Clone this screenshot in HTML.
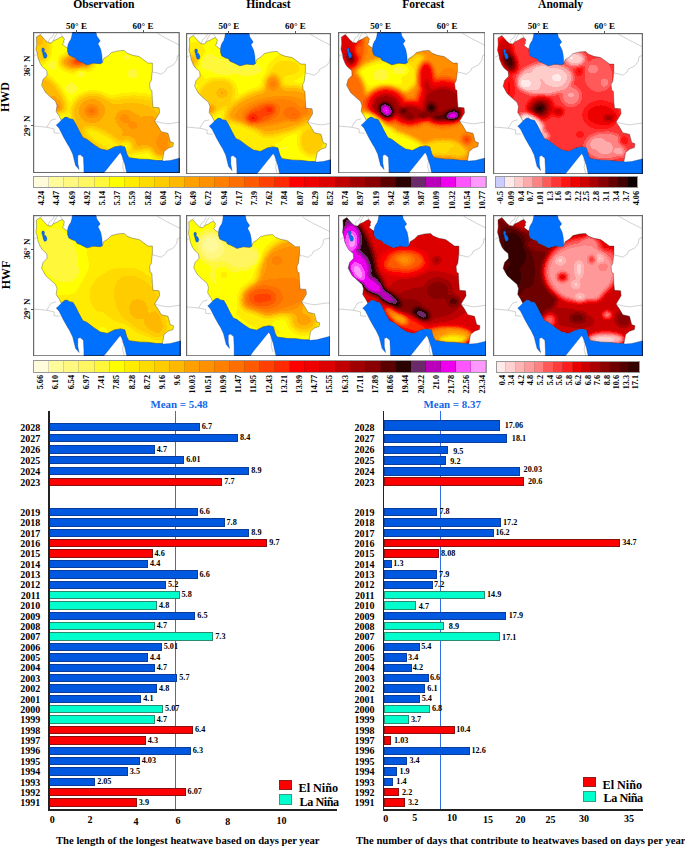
<!DOCTYPE html>
<html><head><meta charset="utf-8"><style>
html,body{margin:0;padding:0;background:#fff}
body{width:685px;height:850px;position:relative;overflow:hidden;font-family:"Liberation Serif", serif;font-weight:bold}
.t{position:absolute;white-space:nowrap;font-weight:bold}
.map{position:absolute;overflow:hidden}
</style></head><body>
<svg width="0" height="0" style="position:absolute">
<defs>
<path id="iranp" d="M2.8,4.4 L6.7,2.0 L8.9,4.4 L11.5,7.5 L14.4,10.0 L17.8,10.5 L19.4,8.3 L23.3,6.7 L25.8,5.1 L28.5,4.0 L30.2,5.4 L30.8,6.9 L29.9,8.4 L30.5,9.8 L28.8,11.3 L30.2,13.0 L32.3,14.5 L34.0,15.4 L34.1,18.8 L35.3,22.3 L38.8,24.1 L42.0,25.1 L43.4,27.6 L46.6,28.8 L53.3,32.2 L59.9,30.5 L66.6,31.1 L68.8,30.0 L70.0,26.1 L74.4,23.3 L77.8,20.0 L84.4,18.3 L90.5,17.8 L93.3,20.5 L98.8,22.7 L105.5,23.9 L110.0,27.2 L114.4,30.5 L118.8,30.5 L118.8,37.7 L117.7,47.7 L116.0,51.0 L116.6,56.6 L118.3,57.7 L118.8,68.0 L119.4,74.7 L125.5,75.2 L126.0,80.2 L121.0,88.5 L124.4,93.5 L127.7,99.1 L134.4,100.7 L136.6,109.0 L139.9,110.2 L139.3,114.0 L134.4,115.7 L130.5,119.0 L128.8,128.0 L123.3,128.0 L114.4,126.8 L106.0,126.6 L95.3,125.1 L93.2,121.5 L91.2,114.3 L87.1,113.3 L81.0,114.3 L73.8,117.9 L66.7,116.4 L60.5,112.3 L56.4,109.2 L53.3,106.8 L49.3,105.2 L47.7,102.4 L45.3,98.0 L43.8,94.9 L41.6,90.6 L39.4,86.9 L35.8,86.2 L33.6,84.7 L31.4,84.7 L27.7,87.6 L25.5,83.3 L22.6,78.9 L23.4,73.0 L21.9,68.7 L17.5,65.0 L12.0,59.9 L8.0,52.6 L9.5,46.8 L13.5,42.7 L13.1,38.0 L8.9,34.4 L6.7,31.1 L4.4,25.5 L3.9,21.6 L2.4,16.6 L3.1,11.1 Z"/>
<path id="seap" d="M24.1,91.3 L27.7,87.6 L31.4,84.7 L33.6,84.7 L35.8,86.2 L39.4,86.9 L41.6,90.6 L43.8,94.9 L45.3,98.0 L47.7,102.4 L49.3,105.2 L53.3,106.8 L56.4,109.2 L60.5,112.3 L66.7,116.4 L73.8,117.9 L81.0,114.3 L87.1,113.3 L91.2,114.3 L93.2,121.5 L95.3,125.1 L106.0,126.6 L114.4,126.8 L123.3,128.0 L128.8,128.0 L129.9,128.5 L136.6,127.9 L160.0,122.0 L160.0,150.0 L95.5,150.0 L93.2,141.0 L91.2,131.7 L88.1,122.5 L86.6,120.0 L69.7,141.0 L64.0,150.0 L50.3,150.0 L50.3,141.0 L50.3,134.8 L49.8,124.6 L46.5,122.0 L44.2,123.0 L44.2,130.7 L45.5,137.0 L42.0,133.0 L39.1,121.5 L36.0,114.9 L34.4,112.4 L30.0,104.6 L25.5,95.7 L22.6,92.4 Z"/>
<path id="caspp" d="M38.8,-10.0 L38.7,0.5 L38.1,4.0 L37.2,6.9 L35.8,8.9 L34.6,11.3 L34.0,14.2 L34.1,18.8 L35.3,22.3 L38.8,24.1 L42.0,25.1 L43.4,27.6 L46.6,28.8 L53.3,32.2 L59.9,30.5 L66.6,31.1 L68.8,30.0 L68.2,22.2 L67.1,16.6 L64.4,11.1 L66.6,8.3 L65.5,6.7 L63.2,3.3 L60.5,-10.0 Z"/>
<path id="urmp" d="M8.4,15.6 L10.2,15.4 L11.0,17.2 L10.4,18.8 L12.4,20.5 L13.4,23.2 L12.6,25.4 L10.6,25.6 L9.6,23.0 L9.0,20.2 L8.2,18.0 Z"/>
<g id="bord" fill="none" stroke="#8a8a8a" stroke-width="0.4"><path d="M118.8,37.7 L120.0,40.0 L122.2,40.0 L127.7,41.6 L132.1,38.3 L133.2,35.5 L139.9,32.2 L143.2,27.7 L143.8,23.3 L146.0,22.2 L156.0,21.0"/><path d="M122.0,-1.0 L124.4,1.1 L134.4,6.7 L145.4,12.2 L156.0,17.0"/><path d="M121.0,88.5 L127.7,90.2 L134.4,91.3 L146.0,89.6 L156.0,89.0"/><path d="M-10.0,93.3 L0.0,93.5 L13.1,94.6 L17.5,87.6 L22.6,86.2"/><path d="M13.1,94.6 L20.5,96.3 L20.5,100.2 L26.1,100.7"/><path d="M6.7,2.0 L9.0,0.0"/><path d="M14.4,10.0 L16.0,6.0 L19.0,4.0 L21.0,0.0"/><path d="M19.4,8.3 L22.0,3.0 L24.0,0.0"/><path d="M29.4,4.7 L28.0,2.0 L26.0,0.0"/><path d="M0.0,23.7 L3.9,21.6"/><path d="M88.1,126.0 L90.0,128.0 L89.0,134.0 L91.0,141.0"/></g>
<clipPath id="clipIran"><use href="#iranp"/></clipPath>
<filter id="f_a1_22" color-interpolation-filters="sRGB" x="-20%" y="-20%" width="140%" height="140%"><feGaussianBlur stdDeviation="2.2"/><feComponentTransfer><feFuncR type="discrete" tableValues="0.8000 1.0000 1.0000 1.0000 1.0000 1.0000 1.0000 1.0000 0.9333 0.8000 0.6667 0.5333 0.4000 0.2588 0.0549"/><feFuncG type="discrete" tableValues="0.8000 0.9176 0.8000 0.6667 0.5098 0.3529 0.2039 0.0784 0.0000 0.0000 0.0000 0.0000 0.0000 0.0000 0.0000"/><feFuncB type="discrete" tableValues="1.0000 0.9176 0.8000 0.6667 0.5098 0.3529 0.2039 0.0784 0.0000 0.0000 0.0000 0.0000 0.0000 0.0000 0.0000"/></feComponentTransfer><feGaussianBlur stdDeviation="0.45"/></filter><filter id="f_a2_22" color-interpolation-filters="sRGB" x="-20%" y="-20%" width="140%" height="140%"><feGaussianBlur stdDeviation="2.2"/><feComponentTransfer><feFuncR type="discrete" tableValues="1.0000 1.0000 1.0000 1.0000 1.0000 1.0000 1.0000 1.0000 0.9098 0.8000 0.6667 0.5490 0.4314 0.3216 0.2118"/><feFuncG type="discrete" tableValues="0.9098 0.8157 0.7059 0.6039 0.5020 0.3451 0.2275 0.1098 0.0000 0.0000 0.0000 0.0000 0.0000 0.0000 0.0000"/><feFuncB type="discrete" tableValues="0.9098 0.8157 0.7059 0.6039 0.5020 0.3451 0.2275 0.1098 0.0000 0.0000 0.0000 0.0000 0.0000 0.0000 0.0000"/></feComponentTransfer><feGaussianBlur stdDeviation="0.45"/></filter><filter id="f_c30_22" color-interpolation-filters="sRGB" x="-20%" y="-20%" width="140%" height="140%"><feGaussianBlur stdDeviation="2.2"/><feComponentTransfer><feFuncR type="discrete" tableValues="1.0000 1.0000 1.0000 1.0000 1.0000 1.0000 1.0000 1.0000 1.0000 1.0000 1.0000 1.0000 1.0000 1.0000 1.0000 1.0000 1.0000 1.0000 0.9333 0.8667 0.7529 0.6275 0.5333 0.3529 0.1647 0.4157 0.7333 0.9333 1.0000 1.0000"/><feFuncG type="discrete" tableValues="0.9882 0.9804 0.9725 0.9647 0.9725 1.0000 0.9255 0.8627 0.8000 0.7216 0.6275 0.5647 0.5020 0.4314 0.3529 0.2510 0.1647 0.0000 0.0000 0.0000 0.0000 0.0000 0.0000 0.0000 0.0000 0.1647 0.0000 0.0000 0.3333 0.6000"/><feFuncB type="discrete" tableValues="0.8627 0.6039 0.5020 0.3765 0.2275 0.0000 0.0000 0.0000 0.0000 0.0000 0.0000 0.0000 0.0000 0.0000 0.0000 0.0000 0.0000 0.0000 0.0000 0.0000 0.0000 0.0000 0.0000 0.0000 0.0000 0.4157 0.7333 0.9333 1.0000 1.0000"/></feComponentTransfer><feGaussianBlur stdDeviation="0.45"/></filter><filter id="f_c30_25" color-interpolation-filters="sRGB" x="-20%" y="-20%" width="140%" height="140%"><feGaussianBlur stdDeviation="2.5"/><feComponentTransfer><feFuncR type="discrete" tableValues="1.0000 1.0000 1.0000 1.0000 1.0000 1.0000 1.0000 1.0000 1.0000 1.0000 1.0000 1.0000 1.0000 1.0000 1.0000 1.0000 1.0000 1.0000 0.9333 0.8667 0.7529 0.6275 0.5333 0.3529 0.1647 0.4157 0.7333 0.9333 1.0000 1.0000"/><feFuncG type="discrete" tableValues="0.9882 0.9804 0.9725 0.9647 0.9725 1.0000 0.9255 0.8627 0.8000 0.7216 0.6275 0.5647 0.5020 0.4314 0.3529 0.2510 0.1647 0.0000 0.0000 0.0000 0.0000 0.0000 0.0000 0.0000 0.0000 0.1647 0.0000 0.0000 0.3333 0.6000"/><feFuncB type="discrete" tableValues="0.8627 0.6039 0.5020 0.3765 0.2275 0.0000 0.0000 0.0000 0.0000 0.0000 0.0000 0.0000 0.0000 0.0000 0.0000 0.0000 0.0000 0.0000 0.0000 0.0000 0.0000 0.0000 0.0000 0.0000 0.0000 0.4157 0.7333 0.9333 1.0000 1.0000"/></feComponentTransfer><feGaussianBlur stdDeviation="0.45"/></filter><filter id="f_c30_30" color-interpolation-filters="sRGB" x="-20%" y="-20%" width="140%" height="140%"><feGaussianBlur stdDeviation="3.0"/><feComponentTransfer><feFuncR type="discrete" tableValues="1.0000 1.0000 1.0000 1.0000 1.0000 1.0000 1.0000 1.0000 1.0000 1.0000 1.0000 1.0000 1.0000 1.0000 1.0000 1.0000 1.0000 1.0000 0.9333 0.8667 0.7529 0.6275 0.5333 0.3529 0.1647 0.4157 0.7333 0.9333 1.0000 1.0000"/><feFuncG type="discrete" tableValues="0.9882 0.9804 0.9725 0.9647 0.9725 1.0000 0.9255 0.8627 0.8000 0.7216 0.6275 0.5647 0.5020 0.4314 0.3529 0.2510 0.1647 0.0000 0.0000 0.0000 0.0000 0.0000 0.0000 0.0000 0.0000 0.1647 0.0000 0.0000 0.3333 0.6000"/><feFuncB type="discrete" tableValues="0.8627 0.6039 0.5020 0.3765 0.2275 0.0000 0.0000 0.0000 0.0000 0.0000 0.0000 0.0000 0.0000 0.0000 0.0000 0.0000 0.0000 0.0000 0.0000 0.0000 0.0000 0.0000 0.0000 0.0000 0.0000 0.4157 0.7333 0.9333 1.0000 1.0000"/></feComponentTransfer><feGaussianBlur stdDeviation="0.45"/></filter><filter id="f_c30_40" color-interpolation-filters="sRGB" x="-20%" y="-20%" width="140%" height="140%"><feGaussianBlur stdDeviation="4.0"/><feComponentTransfer><feFuncR type="discrete" tableValues="1.0000 1.0000 1.0000 1.0000 1.0000 1.0000 1.0000 1.0000 1.0000 1.0000 1.0000 1.0000 1.0000 1.0000 1.0000 1.0000 1.0000 1.0000 0.9333 0.8667 0.7529 0.6275 0.5333 0.3529 0.1647 0.4157 0.7333 0.9333 1.0000 1.0000"/><feFuncG type="discrete" tableValues="0.9882 0.9804 0.9725 0.9647 0.9725 1.0000 0.9255 0.8627 0.8000 0.7216 0.6275 0.5647 0.5020 0.4314 0.3529 0.2510 0.1647 0.0000 0.0000 0.0000 0.0000 0.0000 0.0000 0.0000 0.0000 0.1647 0.0000 0.0000 0.3333 0.6000"/><feFuncB type="discrete" tableValues="0.8627 0.6039 0.5020 0.3765 0.2275 0.0000 0.0000 0.0000 0.0000 0.0000 0.0000 0.0000 0.0000 0.0000 0.0000 0.0000 0.0000 0.0000 0.0000 0.0000 0.0000 0.0000 0.0000 0.0000 0.0000 0.4157 0.7333 0.9333 1.0000 1.0000"/></feComponentTransfer><feGaussianBlur stdDeviation="0.45"/></filter>
</defs></svg>
<svg class="map" style="left:33.40px;top:31.80px;width:146.80px;height:141.20px" viewBox="0 0 146.80 141.20">
<defs><clipPath id="clip_obs_hwd"><use href="#iranp" transform="translate(0.60,0.60) scale(1,1)"/></clipPath><clipPath id="sclip_obs_hwd"><use href="#seap" transform="translate(0.60,0.60) scale(1,1)"/><use href="#caspp" transform="translate(0.60,0.60) scale(1,1)"/></clipPath></defs>
<g clip-path="url(#clip_obs_hwd)"><g filter="url(#f_c30_25)"><rect x="-20" y="-20" width="200" height="190" fill="rgb(47,47,47)"/><ellipse cx="85" cy="95" rx="55" ry="30" fill="rgb(68,68,68)" transform="rotate(-15 85 95)"/><ellipse cx="82" cy="94" rx="45" ry="22" fill="rgb(81,81,81)" transform="rotate(-15 82 94)"/><ellipse cx="110" cy="100" rx="25" ry="18" fill="rgb(85,85,85)" transform="rotate(-20 110 100)"/><ellipse cx="20" cy="62" rx="8" ry="22" fill="rgb(81,81,81)" transform="rotate(-35 20 62)"/><ellipse cx="22" cy="72" rx="5" ry="10" fill="rgb(89,89,89)" transform="rotate(-30 22 72)"/><ellipse cx="24" cy="76" rx="3" ry="5" fill="rgb(106,106,106)"/><ellipse cx="60" cy="80" rx="22" ry="19" fill="rgb(81,81,81)"/><ellipse cx="59" cy="79" rx="13" ry="12" fill="rgb(89,89,89)"/><ellipse cx="58.6" cy="78.9" rx="8" ry="7" fill="rgb(98,98,98)"/><ellipse cx="58.6" cy="78.9" rx="4" ry="3.5" fill="rgb(123,123,123)"/><ellipse cx="96" cy="90" rx="16" ry="12" fill="rgb(85,85,85)" transform="rotate(30 96 90)"/><ellipse cx="95" cy="88" rx="12" ry="8" fill="rgb(89,89,89)" transform="rotate(30 95 88)"/><ellipse cx="91.6" cy="86.4" rx="4" ry="3" fill="rgb(110,110,110)"/><ellipse cx="100.2" cy="93.8" rx="4" ry="3" fill="rgb(110,110,110)"/><ellipse cx="128" cy="110" rx="12" ry="16" fill="rgb(89,89,89)"/><ellipse cx="130" cy="110" rx="7" ry="10" fill="rgb(98,98,98)"/><ellipse cx="70" cy="108" rx="22" ry="7" fill="rgb(55,55,55)" transform="rotate(30 70 108)"/><ellipse cx="93" cy="114" rx="6" ry="5" fill="rgb(47,47,47)"/><ellipse cx="8" cy="15" rx="9" ry="16" fill="rgb(72,72,72)"/><ellipse cx="6" cy="8" rx="4" ry="6" fill="rgb(85,85,85)"/><ellipse cx="44" cy="30" rx="17" ry="9" fill="rgb(89,89,89)"/><ellipse cx="45" cy="29.5" rx="10" ry="5" fill="rgb(115,115,115)"/><ellipse cx="45" cy="29.5" rx="5" ry="2.5" fill="rgb(149,149,149)"/><ellipse cx="19.2" cy="33" rx="4" ry="4" fill="rgb(34,34,34)"/><ellipse cx="48" cy="40.5" rx="4" ry="4" fill="rgb(34,34,34)"/><ellipse cx="38.4" cy="56.5" rx="5" ry="4" fill="rgb(30,30,30)"/><ellipse cx="100" cy="41.6" rx="5" ry="4" fill="rgb(34,34,34)"/><ellipse cx="93.8" cy="25.6" rx="4" ry="3" fill="rgb(38,38,38)"/></g></g>
<g transform="translate(0.60,0.60) scale(1,1)">
<use href="#iranp" fill="none" stroke="#222" stroke-width="0.35"/>
<use href="#bord" />
<use href="#seap" fill="#0070FF" stroke="#0a2a60" stroke-width="0.3"/>
<use href="#caspp" fill="#0070FF" stroke="#0a2a60" stroke-width="0.3"/>
<use href="#urmp" fill="#0070FF" stroke="#0a2a60" stroke-width="0.3"/>
</g>
<rect x="0.6" y="0.6" width="145.60" height="140.00" fill="none" stroke="#6a6a6a" stroke-width="1.2"/>
<rect x="0.6" y="0.6" width="145.60" height="140.00" fill="none" stroke="#0a2050" stroke-width="1.2" clip-path="url(#sclip_obs_hwd)"/>
</svg><svg class="map" style="left:185.80px;top:32.90px;width:145.00px;height:141.30px" viewBox="0 0 145.00 141.30">
<defs><clipPath id="clip_hc_hwd"><use href="#iranp" transform="translate(0.60,0.60) scale(1,1)"/></clipPath><clipPath id="sclip_hc_hwd"><use href="#seap" transform="translate(0.60,0.60) scale(1,1)"/><use href="#caspp" transform="translate(0.60,0.60) scale(1,1)"/></clipPath></defs>
<g clip-path="url(#clip_hc_hwd)"><g filter="url(#f_c30_25)"><rect x="-20" y="-20" width="200" height="190" fill="rgb(48,48,48)"/><ellipse cx="10" cy="30" rx="9" ry="20" fill="rgb(60,60,60)"/><ellipse cx="7" cy="28" rx="2.5" ry="6" fill="rgb(98,98,98)"/><ellipse cx="40" cy="35" rx="30" ry="10" fill="rgb(43,43,43)"/><ellipse cx="23" cy="27.5" rx="8" ry="6" fill="rgb(34,34,34)"/><ellipse cx="38" cy="34" rx="10" ry="7" fill="rgb(34,34,34)"/><ellipse cx="63.5" cy="36" rx="12" ry="6" fill="rgb(34,34,34)"/><ellipse cx="90" cy="30" rx="10" ry="6" fill="rgb(42,42,42)"/><ellipse cx="100" cy="35" rx="18" ry="12" fill="rgb(60,60,60)"/><ellipse cx="30" cy="62" rx="20" ry="16" fill="rgb(72,72,72)" transform="rotate(-30 30 62)"/><ellipse cx="36" cy="60" rx="5" ry="4" fill="rgb(89,89,89)"/><ellipse cx="25" cy="77" rx="4" ry="5" fill="rgb(98,98,98)"/><ellipse cx="88" cy="78" rx="50" ry="24" fill="rgb(85,85,85)" transform="rotate(-10 88 78)"/><ellipse cx="85" cy="78" rx="38" ry="15" fill="rgb(98,98,98)" transform="rotate(-10 85 78)"/><ellipse cx="84" cy="79" rx="28" ry="11" fill="rgb(110,110,110)" transform="rotate(-10 84 79)"/><ellipse cx="87" cy="52" rx="9" ry="12" fill="rgb(89,89,89)"/><ellipse cx="87" cy="51" rx="5" ry="6" fill="rgb(106,106,106)"/><ellipse cx="75" cy="81" rx="16" ry="8" fill="rgb(128,128,128)" transform="rotate(-25 75 81)"/><ellipse cx="66.7" cy="85" rx="6" ry="4" fill="rgb(149,149,149)"/><ellipse cx="83.6" cy="76.6" rx="5" ry="3.5" fill="rgb(144,144,144)"/><ellipse cx="108" cy="82" rx="8" ry="6" fill="rgb(119,119,119)"/><ellipse cx="120" cy="78" rx="5" ry="6" fill="rgb(106,106,106)"/><ellipse cx="60" cy="102" rx="26" ry="9" fill="rgb(55,55,55)" transform="rotate(25 60 102)"/><ellipse cx="80" cy="110" rx="20" ry="7" fill="rgb(55,55,55)"/><ellipse cx="97" cy="115" rx="10" ry="5" fill="rgb(42,42,42)"/><ellipse cx="126" cy="108" rx="12" ry="14" fill="rgb(76,76,76)"/></g></g>
<g transform="translate(0.60,0.60) scale(1,1)">
<use href="#iranp" fill="none" stroke="#222" stroke-width="0.35"/>
<use href="#bord" />
<use href="#seap" fill="#0070FF" stroke="#0a2a60" stroke-width="0.3"/>
<use href="#caspp" fill="#0070FF" stroke="#0a2a60" stroke-width="0.3"/>
<use href="#urmp" fill="#0070FF" stroke="#0a2a60" stroke-width="0.3"/>
</g>
<rect x="0.6" y="0.6" width="143.80" height="140.10" fill="none" stroke="#6a6a6a" stroke-width="1.2"/>
<rect x="0.6" y="0.6" width="143.80" height="140.10" fill="none" stroke="#0a2050" stroke-width="1.2" clip-path="url(#sclip_hc_hwd)"/>
</svg><svg class="map" style="left:337.60px;top:31.90px;width:147.60px;height:141.50px" viewBox="0 0 147.60 141.50">
<defs><clipPath id="clip_fc_hwd"><use href="#iranp" transform="translate(0.60,0.60) scale(1,1)"/></clipPath><clipPath id="sclip_fc_hwd"><use href="#seap" transform="translate(0.60,0.60) scale(1,1)"/><use href="#caspp" transform="translate(0.60,0.60) scale(1,1)"/></clipPath></defs>
<g clip-path="url(#clip_fc_hwd)"><g filter="url(#f_c30_22)"><rect x="-20" y="-20" width="200" height="190" fill="rgb(98,98,98)"/><ellipse cx="48" cy="46" rx="34" ry="20" fill="rgb(55,55,55)" transform="rotate(-10 48 46)"/><ellipse cx="45" cy="44" rx="24" ry="13" fill="rgb(47,47,47)"/><ellipse cx="72" cy="40" rx="14" ry="10" fill="rgb(55,55,55)"/><ellipse cx="43" cy="43" rx="8" ry="6" fill="rgb(38,38,38)"/><ellipse cx="62" cy="38.6" rx="8" ry="5" fill="rgb(38,38,38)"/><ellipse cx="80" cy="30" rx="8" ry="8" fill="rgb(64,64,64)"/><ellipse cx="100" cy="33" rx="16" ry="12" fill="rgb(94,94,94)"/><ellipse cx="110" cy="45" rx="10" ry="10" fill="rgb(106,106,106)"/><ellipse cx="12" cy="18" rx="14" ry="22" fill="rgb(140,140,140)" transform="rotate(10 12 18)"/><ellipse cx="9" cy="14" rx="9" ry="15" fill="rgb(166,166,166)"/><ellipse cx="12.9" cy="26.8" rx="5" ry="7" fill="rgb(191,191,191)"/><ellipse cx="13" cy="27" rx="2.5" ry="3.5" fill="rgb(204,204,204)"/><ellipse cx="22" cy="18" rx="6" ry="6" fill="rgb(123,123,123)"/><ellipse cx="16" cy="58" rx="11" ry="20" fill="rgb(115,115,115)" transform="rotate(-15 16 58)"/><ellipse cx="48" cy="73" rx="22" ry="19" fill="rgb(132,132,132)"/><ellipse cx="105" cy="70" rx="28" ry="25" fill="rgb(132,132,132)"/><ellipse cx="72" cy="81" rx="20" ry="14" fill="rgb(132,132,132)"/><ellipse cx="88" cy="45" rx="9" ry="16" fill="rgb(140,140,140)"/><ellipse cx="48" cy="73" rx="18" ry="15" fill="rgb(157,157,157)"/><ellipse cx="105" cy="70" rx="24" ry="21" fill="rgb(157,157,157)"/><ellipse cx="72" cy="81" rx="16" ry="11" fill="rgb(157,157,157)"/><ellipse cx="88" cy="45" rx="6" ry="13" fill="rgb(157,157,157)"/><ellipse cx="48" cy="74" rx="14" ry="12" fill="rgb(183,183,183)"/><ellipse cx="105" cy="72" rx="20" ry="17" fill="rgb(183,183,183)"/><ellipse cx="72" cy="81" rx="13" ry="8" fill="rgb(183,183,183)"/><ellipse cx="89" cy="55" rx="4" ry="8" fill="rgb(174,174,174)"/><ellipse cx="48.3" cy="78.4" rx="9" ry="7" fill="rgb(208,208,208)" transform="rotate(55 48.3 78.4)"/><ellipse cx="48.3" cy="78.4" rx="7" ry="5" fill="rgb(225,225,225)" transform="rotate(55 48.3 78.4)"/><ellipse cx="48.3" cy="78.4" rx="5" ry="3" fill="rgb(238,238,238)" transform="rotate(55 48.3 78.4)"/><ellipse cx="48.3" cy="78.4" rx="2.5" ry="1.5" fill="rgb(251,251,251)" transform="rotate(55 48.3 78.4)"/><ellipse cx="65.5" cy="78.4" rx="3" ry="2.5" fill="rgb(217,217,217)"/><ellipse cx="71.9" cy="84.8" rx="2.5" ry="2" fill="rgb(217,217,217)"/><ellipse cx="93.3" cy="75.8" rx="5" ry="5" fill="rgb(208,208,208)"/><ellipse cx="100" cy="86" rx="8" ry="4" fill="rgb(200,200,200)"/><ellipse cx="86" cy="84" rx="5" ry="4" fill="rgb(200,200,200)"/><ellipse cx="114.8" cy="83.7" rx="10" ry="6" fill="rgb(208,208,208)" transform="rotate(-10 114.8 83.7)"/><ellipse cx="114.8" cy="83.7" rx="6" ry="3.5" fill="rgb(230,230,230)" transform="rotate(-10 114.8 83.7)"/><ellipse cx="114.8" cy="83.7" rx="4" ry="2.2" fill="rgb(246,246,246)" transform="rotate(-10 114.8 83.7)"/><ellipse cx="36" cy="92" rx="16" ry="8" fill="rgb(42,42,42)" transform="rotate(40 36 92)"/><ellipse cx="50" cy="102" rx="12" ry="7" fill="rgb(42,42,42)" transform="rotate(35 50 102)"/><ellipse cx="68" cy="112" rx="28" ry="8" fill="rgb(47,47,47)" transform="rotate(25 68 112)"/><ellipse cx="105" cy="116" rx="20" ry="8" fill="rgb(64,64,64)"/><ellipse cx="120" cy="120" rx="10" ry="6" fill="rgb(72,72,72)"/><ellipse cx="128.8" cy="107.4" rx="5" ry="5" fill="rgb(132,132,132)"/></g></g>
<g transform="translate(0.60,0.60) scale(1,1)">
<use href="#iranp" fill="none" stroke="#222" stroke-width="0.35"/>
<use href="#bord" />
<use href="#seap" fill="#0070FF" stroke="#0a2a60" stroke-width="0.3"/>
<use href="#caspp" fill="#0070FF" stroke="#0a2a60" stroke-width="0.3"/>
<use href="#urmp" fill="#0070FF" stroke="#0a2a60" stroke-width="0.3"/>
</g>
<rect x="0.6" y="0.6" width="146.40" height="140.30" fill="none" stroke="#6a6a6a" stroke-width="1.2"/>
<rect x="0.6" y="0.6" width="146.40" height="140.30" fill="none" stroke="#0a2050" stroke-width="1.2" clip-path="url(#sclip_fc_hwd)"/>
</svg><svg class="map" style="left:492.90px;top:32.80px;width:150.00px;height:141.40px" viewBox="0 0 150.00 141.40">
<defs><clipPath id="clip_an_hwd"><use href="#iranp" transform="translate(2.10,0.60) scale(1,1)"/></clipPath><clipPath id="sclip_an_hwd"><use href="#seap" transform="translate(2.10,0.60) scale(1,1)"/><use href="#caspp" transform="translate(2.10,0.60) scale(1,1)"/></clipPath></defs>
<g clip-path="url(#clip_an_hwd)"><g filter="url(#f_a1_22)"><rect x="-20" y="-20" width="200" height="190" fill="rgb(109,109,109)"/><ellipse cx="12" cy="18" rx="8" ry="14" fill="rgb(162,162,162)"/><ellipse cx="16.3" cy="28.3" rx="7" ry="12" fill="rgb(196,196,196)" transform="rotate(-20 16.3 28.3)"/><ellipse cx="16.3" cy="28.3" rx="4" ry="6" fill="rgb(238,238,238)" transform="rotate(-20 16.3 28.3)"/><ellipse cx="52" cy="46" rx="28" ry="16" fill="rgb(51,51,51)" transform="rotate(-5 52 46)"/><ellipse cx="34" cy="50" rx="10" ry="7" fill="rgb(34,34,34)"/><ellipse cx="30.5" cy="52" rx="5" ry="4" fill="rgb(26,26,26)"/><ellipse cx="62" cy="44" rx="9" ry="6" fill="rgb(34,34,34)"/><ellipse cx="65" cy="45.7" rx="4" ry="4" fill="rgb(26,26,26)"/><ellipse cx="48" cy="38" rx="6" ry="4" fill="rgb(34,34,34)"/><ellipse cx="82" cy="26" rx="10" ry="7" fill="rgb(42,42,42)"/><ellipse cx="78" cy="24" rx="4" ry="3" fill="rgb(26,26,26)"/><ellipse cx="105" cy="42" rx="14" ry="17" fill="rgb(94,94,94)"/><ellipse cx="100" cy="36" rx="6" ry="5" fill="rgb(76,76,76)"/><ellipse cx="112" cy="50" rx="5" ry="5" fill="rgb(76,76,76)"/><ellipse cx="78" cy="63" rx="10" ry="10" fill="rgb(76,76,76)"/><ellipse cx="78" cy="62" rx="4" ry="3" fill="rgb(60,60,60)"/><ellipse cx="86.4" cy="38.2" rx="4" ry="4" fill="rgb(144,144,144)"/><ellipse cx="108" cy="82" rx="18" ry="14" fill="rgb(136,136,136)"/><ellipse cx="115.5" cy="85" rx="7" ry="4" fill="rgb(170,170,170)"/><ellipse cx="116" cy="85" rx="3" ry="2" fill="rgb(196,196,196)"/><ellipse cx="16" cy="55" rx="6" ry="12" fill="rgb(136,136,136)"/><ellipse cx="46.8" cy="75.5" rx="14" ry="12" fill="rgb(162,162,162)" transform="rotate(-30 46.8 75.5)"/><ellipse cx="46.8" cy="75.5" rx="9" ry="8" fill="rgb(196,196,196)" transform="rotate(-30 46.8 75.5)"/><ellipse cx="46.8" cy="75.5" rx="5" ry="4" fill="rgb(246,246,246)" transform="rotate(-30 46.8 75.5)"/><ellipse cx="65.3" cy="78.8" rx="5" ry="4" fill="rgb(178,178,178)"/><ellipse cx="38" cy="92" rx="14" ry="10" fill="rgb(26,26,26)" transform="rotate(40 38 92)"/><ellipse cx="32.6" cy="85.3" rx="3" ry="2.5" fill="rgb(8,8,8)"/><ellipse cx="52.2" cy="102.7" rx="3" ry="2.5" fill="rgb(8,8,8)"/><ellipse cx="78" cy="104" rx="14" ry="12" fill="rgb(110,110,110)"/><ellipse cx="87" cy="101.6" rx="3" ry="3" fill="rgb(144,144,144)"/><ellipse cx="112" cy="113" rx="20" ry="13" fill="rgb(68,68,68)"/><ellipse cx="104" cy="110" rx="4" ry="3" fill="rgb(51,51,51)"/><ellipse cx="112" cy="115" rx="4" ry="3" fill="rgb(51,51,51)"/><ellipse cx="128" cy="120" rx="4" ry="3" fill="rgb(51,51,51)"/><ellipse cx="130.5" cy="108" rx="4" ry="4" fill="rgb(144,144,144)"/></g></g>
<g transform="translate(2.10,0.60) scale(1,1)">
<use href="#iranp" fill="none" stroke="#222" stroke-width="0.35"/>
<use href="#bord" />
<use href="#seap" fill="#0070FF" stroke="#0a2a60" stroke-width="0.3"/>
<use href="#caspp" fill="#0070FF" stroke="#0a2a60" stroke-width="0.3"/>
<use href="#urmp" fill="#0070FF" stroke="#0a2a60" stroke-width="0.3"/>
</g>
<rect x="0.6" y="0.6" width="148.80" height="140.20" fill="none" stroke="#6a6a6a" stroke-width="1.2"/>
<rect x="0.6" y="0.6" width="148.80" height="140.20" fill="none" stroke="#0a2050" stroke-width="1.2" clip-path="url(#sclip_an_hwd)"/>
</svg><svg class="map" style="left:33.30px;top:214.80px;width:147.70px;height:141.40px" viewBox="0 0 147.70 141.40">
<defs><clipPath id="clip_obs_hwf"><use href="#iranp" transform="translate(0.60,0.60) scale(1,1)"/></clipPath><clipPath id="sclip_obs_hwf"><use href="#seap" transform="translate(0.60,0.60) scale(1,1)"/><use href="#caspp" transform="translate(0.60,0.60) scale(1,1)"/></clipPath></defs>
<g clip-path="url(#clip_obs_hwf)"><g filter="url(#f_c30_40)"><rect x="-20" y="-20" width="200" height="190" fill="rgb(51,51,51)"/><ellipse cx="25" cy="40" rx="25" ry="35" fill="rgb(42,42,42)" transform="rotate(-20 25 40)"/><ellipse cx="19.3" cy="40.8" rx="5" ry="5" fill="rgb(34,34,34)"/><ellipse cx="38.6" cy="58" rx="5" ry="4" fill="rgb(34,34,34)"/><ellipse cx="75" cy="40" rx="20" ry="10" fill="rgb(55,55,55)"/><ellipse cx="80" cy="80" rx="30" ry="30" fill="rgb(60,60,60)"/><ellipse cx="100" cy="82" rx="25" ry="30" fill="rgb(68,68,68)" transform="rotate(-20 100 82)"/><ellipse cx="112" cy="95" rx="20" ry="25" fill="rgb(76,76,76)" transform="rotate(-20 112 95)"/><ellipse cx="104" cy="94.4" rx="5" ry="4" fill="rgb(89,89,89)"/><ellipse cx="125" cy="112" rx="10" ry="12" fill="rgb(81,81,81)"/><ellipse cx="70" cy="110" rx="18" ry="6" fill="rgb(55,55,55)" transform="rotate(25 70 110)"/><ellipse cx="70.8" cy="113.7" rx="5" ry="3" fill="rgb(42,42,42)"/></g></g>
<g transform="translate(0.60,0.60) scale(1,1)">
<use href="#iranp" fill="none" stroke="#222" stroke-width="0.35"/>
<use href="#bord" />
<use href="#seap" fill="#0070FF" stroke="#0a2a60" stroke-width="0.3"/>
<use href="#caspp" fill="#0070FF" stroke="#0a2a60" stroke-width="0.3"/>
<use href="#urmp" fill="#0070FF" stroke="#0a2a60" stroke-width="0.3"/>
</g>
<rect x="0.6" y="0.6" width="146.50" height="140.20" fill="none" stroke="#6a6a6a" stroke-width="1.2"/>
<rect x="0.6" y="0.6" width="146.50" height="140.20" fill="none" stroke="#0a2050" stroke-width="1.2" clip-path="url(#sclip_obs_hwf)"/>
</svg><svg class="map" style="left:185.50px;top:214.70px;width:144.70px;height:141.40px" viewBox="0 0 144.70 141.40">
<defs><clipPath id="clip_hc_hwf"><use href="#iranp" transform="translate(0.10,2.60) scale(0.955,0.955)"/></clipPath><clipPath id="sclip_hc_hwf"><use href="#seap" transform="translate(0.10,2.60) scale(0.955,0.955)"/><use href="#caspp" transform="translate(0.10,2.60) scale(0.955,0.955)"/></clipPath></defs>
<g clip-path="url(#clip_hc_hwf)"><g filter="url(#f_c30_30)"><rect x="-20" y="-20" width="200" height="190" fill="rgb(47,47,47)"/><ellipse cx="26" cy="32" rx="14" ry="16" fill="rgb(21,21,21)" transform="rotate(-30 26 32)"/><ellipse cx="25" cy="30" rx="7" ry="8" fill="rgb(8,8,8)" transform="rotate(-30 25 30)"/><ellipse cx="52" cy="42" rx="22" ry="12" fill="rgb(26,26,26)"/><ellipse cx="35" cy="60" rx="15" ry="14" fill="rgb(42,42,42)"/><ellipse cx="102" cy="62" rx="30" ry="38" fill="rgb(94,94,94)" transform="rotate(10 102 62)"/><ellipse cx="88" cy="80" rx="34" ry="20" fill="rgb(102,102,102)" transform="rotate(-20 88 80)"/><ellipse cx="91" cy="45.5" rx="8" ry="6" fill="rgb(106,106,106)"/><ellipse cx="78" cy="82" rx="22" ry="13" fill="rgb(115,115,115)"/><ellipse cx="76" cy="83" rx="13" ry="8" fill="rgb(128,128,128)"/><ellipse cx="72" cy="84.7" rx="4" ry="3" fill="rgb(136,136,136)"/><ellipse cx="82.6" cy="81.5" rx="4" ry="3" fill="rgb(136,136,136)"/><ellipse cx="108" cy="78" rx="12" ry="12" fill="rgb(106,106,106)"/><ellipse cx="118" cy="105" rx="14" ry="12" fill="rgb(85,85,85)"/><ellipse cx="72" cy="108" rx="30" ry="9" fill="rgb(51,51,51)" transform="rotate(25 72 108)"/><ellipse cx="38" cy="60" rx="4" ry="4" fill="rgb(64,64,64)"/></g></g>
<g transform="translate(0.10,2.60) scale(0.955,0.955)">
<use href="#iranp" fill="none" stroke="#222" stroke-width="0.35"/>
<use href="#bord" />
<use href="#seap" fill="#0070FF" stroke="#0a2a60" stroke-width="0.3"/>
<use href="#caspp" fill="#0070FF" stroke="#0a2a60" stroke-width="0.3"/>
<use href="#urmp" fill="#0070FF" stroke="#0a2a60" stroke-width="0.3"/>
</g>
<rect x="0.6" y="0.6" width="143.50" height="140.20" fill="none" stroke="#6a6a6a" stroke-width="1.2"/>
<rect x="0.6" y="0.6" width="143.50" height="140.20" fill="none" stroke="#0a2050" stroke-width="1.2" clip-path="url(#sclip_hc_hwf)"/>
</svg><svg class="map" style="left:337.60px;top:214.90px;width:148.50px;height:141.30px" viewBox="0 0 148.50 141.30">
<defs><clipPath id="clip_fc_hwf"><use href="#iranp" transform="translate(2.10,0.60) scale(1,1)"/></clipPath><clipPath id="sclip_fc_hwf"><use href="#seap" transform="translate(2.10,0.60) scale(1,1)"/><use href="#caspp" transform="translate(2.10,0.60) scale(1,1)"/></clipPath></defs>
<g clip-path="url(#clip_fc_hwf)"><g filter="url(#f_c30_22)"><rect x="-20" y="-20" width="200" height="190" fill="rgb(166,166,166)"/><ellipse cx="92" cy="82" rx="44" ry="26" fill="rgb(174,174,174)"/><ellipse cx="88" cy="88" rx="34" ry="16" fill="rgb(183,183,183)"/><ellipse cx="100" cy="75" rx="14" ry="12" fill="rgb(187,187,187)"/><ellipse cx="70" cy="92" rx="14" ry="8" fill="rgb(191,191,191)"/><ellipse cx="28" cy="38" rx="7" ry="30" fill="rgb(208,208,208)" transform="rotate(-18 28 38)"/><ellipse cx="36" cy="62" rx="6" ry="22" fill="rgb(208,208,208)" transform="rotate(-30 36 62)"/><ellipse cx="52" cy="84" rx="14" ry="7" fill="rgb(204,204,204)" transform="rotate(35 52 84)"/><ellipse cx="12" cy="24" rx="10" ry="18" fill="rgb(234,234,234)"/><ellipse cx="20" cy="52" rx="11" ry="16" fill="rgb(234,234,234)" transform="rotate(-20 20 52)"/><ellipse cx="34" cy="71" rx="13" ry="7" fill="rgb(234,234,234)" transform="rotate(35 34 71)"/><ellipse cx="46" cy="80" rx="12" ry="4.5" fill="rgb(230,230,230)" transform="rotate(35 46 80)"/><ellipse cx="55" cy="85" rx="6" ry="2.5" fill="rgb(225,225,225)" transform="rotate(35 55 85)"/><ellipse cx="14" cy="25.8" rx="5" ry="9" fill="rgb(251,251,251)"/><ellipse cx="20" cy="57" rx="5" ry="9" fill="rgb(251,251,251)" transform="rotate(-25 20 57)"/><ellipse cx="9" cy="6" rx="5" ry="5" fill="rgb(217,217,217)"/><ellipse cx="66" cy="47" rx="26" ry="15" fill="rgb(149,149,149)"/><ellipse cx="67.6" cy="46" rx="18" ry="10" fill="rgb(123,123,123)"/><ellipse cx="66" cy="45" rx="10" ry="5.5" fill="rgb(106,106,106)"/><ellipse cx="66" cy="45" rx="4.5" ry="2.5" fill="rgb(89,89,89)"/><ellipse cx="55" cy="50" rx="8" ry="5" fill="rgb(123,123,123)"/><ellipse cx="100" cy="40" rx="14" ry="10" fill="rgb(162,162,162)"/><ellipse cx="98.7" cy="45" rx="5" ry="4" fill="rgb(183,183,183)"/><ellipse cx="83.7" cy="99.3" rx="10" ry="6" fill="rgb(208,208,208)" transform="rotate(30 83.7 99.3)"/><ellipse cx="83.7" cy="99.3" rx="6" ry="2.8" fill="rgb(221,221,221)" transform="rotate(30 83.7 99.3)"/><ellipse cx="115.9" cy="86.5" rx="6" ry="5" fill="rgb(200,200,200)"/><ellipse cx="70" cy="108" rx="22" ry="7" fill="rgb(140,140,140)" transform="rotate(25 70 108)"/><ellipse cx="55" cy="99" rx="10" ry="4" fill="rgb(106,106,106)" transform="rotate(40 55 99)"/><ellipse cx="62" cy="104" rx="8" ry="4" fill="rgb(81,81,81)" transform="rotate(30 62 104)"/><ellipse cx="110" cy="120" rx="24" ry="8" fill="rgb(89,89,89)"/><ellipse cx="115" cy="125" rx="14" ry="4" fill="rgb(47,47,47)"/><ellipse cx="100" cy="118" rx="10" ry="4" fill="rgb(98,98,98)"/><ellipse cx="133" cy="108" rx="5" ry="5" fill="rgb(166,166,166)"/></g></g>
<g transform="translate(2.10,0.60) scale(1,1)">
<use href="#iranp" fill="none" stroke="#222" stroke-width="0.35"/>
<use href="#bord" />
<use href="#seap" fill="#0070FF" stroke="#0a2a60" stroke-width="0.3"/>
<use href="#caspp" fill="#0070FF" stroke="#0a2a60" stroke-width="0.3"/>
<use href="#urmp" fill="#0070FF" stroke="#0a2a60" stroke-width="0.3"/>
</g>
<rect x="0.6" y="0.6" width="147.30" height="140.10" fill="none" stroke="#6a6a6a" stroke-width="1.2"/>
<rect x="0.6" y="0.6" width="147.30" height="140.10" fill="none" stroke="#0a2050" stroke-width="1.2" clip-path="url(#sclip_fc_hwf)"/>
</svg><svg class="map" style="left:492.80px;top:214.90px;width:150.00px;height:141.40px" viewBox="0 0 150.00 141.40">
<defs><clipPath id="clip_an_hwf"><use href="#iranp" transform="translate(2.10,0.60) scale(1,1)"/></clipPath><clipPath id="sclip_an_hwf"><use href="#seap" transform="translate(2.10,0.60) scale(1,1)"/><use href="#caspp" transform="translate(2.10,0.60) scale(1,1)"/></clipPath></defs>
<g clip-path="url(#clip_an_hwf)"><g filter="url(#f_a2_22)"><rect x="-20" y="-20" width="200" height="190" fill="rgb(162,162,162)"/><ellipse cx="32" cy="58" rx="32" ry="46" fill="rgb(212,212,212)" transform="rotate(-25 32 58)"/><ellipse cx="22" cy="45" rx="18" ry="36" fill="rgb(230,230,230)" transform="rotate(-15 22 45)"/><ellipse cx="22" cy="35" rx="10" ry="18" fill="rgb(246,246,246)" transform="rotate(-15 22 35)"/><ellipse cx="20" cy="62" rx="8" ry="12" fill="rgb(246,246,246)"/><ellipse cx="52" cy="30" rx="20" ry="7" fill="rgb(196,196,196)"/><ellipse cx="8" cy="8" rx="5" ry="5" fill="rgb(212,212,212)"/><ellipse cx="42" cy="82" rx="14" ry="8" fill="rgb(212,212,212)" transform="rotate(30 42 82)"/><ellipse cx="88" cy="55" rx="38" ry="32" fill="rgb(94,94,94)" transform="rotate(-10 88 55)"/><ellipse cx="88" cy="57" rx="33" ry="27" fill="rgb(60,60,60)"/><ellipse cx="80" cy="72" rx="16" ry="12" fill="rgb(60,60,60)"/><ellipse cx="100" cy="78" rx="10" ry="8" fill="rgb(60,60,60)"/><ellipse cx="96" cy="28" rx="8" ry="7" fill="rgb(68,68,68)"/><ellipse cx="110" cy="60" rx="10" ry="14" fill="rgb(60,60,60)"/><ellipse cx="67.4" cy="45.7" rx="5" ry="4" fill="rgb(26,26,26)"/><ellipse cx="86" cy="54.4" rx="4" ry="9" fill="rgb(26,26,26)"/><ellipse cx="82.7" cy="69.6" rx="4" ry="4" fill="rgb(26,26,26)"/><ellipse cx="106.6" cy="43.5" rx="4" ry="4" fill="rgb(26,26,26)"/><ellipse cx="87" cy="82.4" rx="5" ry="4" fill="rgb(26,26,26)"/><ellipse cx="99" cy="44.6" rx="3" ry="3" fill="rgb(144,144,144)"/><ellipse cx="110" cy="52" rx="4" ry="3" fill="rgb(94,94,94)"/><ellipse cx="69.6" cy="62" rx="5" ry="4" fill="rgb(162,162,162)"/><ellipse cx="114" cy="30" rx="7" ry="6" fill="rgb(144,144,144)"/><ellipse cx="76" cy="103" rx="26" ry="9" fill="rgb(178,178,178)" transform="rotate(10 76 103)"/><ellipse cx="84.8" cy="103" rx="8" ry="5" fill="rgb(212,212,212)"/><ellipse cx="114.2" cy="99.8" rx="4" ry="3" fill="rgb(42,42,42)"/><ellipse cx="130.5" cy="104" rx="8" ry="8" fill="rgb(196,196,196)"/><ellipse cx="57" cy="105" rx="6" ry="6" fill="rgb(94,94,94)"/><ellipse cx="113" cy="124" rx="18" ry="6" fill="rgb(34,34,34)"/><ellipse cx="110" cy="126" rx="10" ry="3" fill="rgb(17,17,17)"/></g></g>
<g transform="translate(2.10,0.60) scale(1,1)">
<use href="#iranp" fill="none" stroke="#222" stroke-width="0.35"/>
<use href="#bord" />
<use href="#seap" fill="#0070FF" stroke="#0a2a60" stroke-width="0.3"/>
<use href="#caspp" fill="#0070FF" stroke="#0a2a60" stroke-width="0.3"/>
<use href="#urmp" fill="#0070FF" stroke="#0a2a60" stroke-width="0.3"/>
</g>
<rect x="0.6" y="0.6" width="148.80" height="140.20" fill="none" stroke="#6a6a6a" stroke-width="1.2"/>
<rect x="0.6" y="0.6" width="148.80" height="140.20" fill="none" stroke="#0a2050" stroke-width="1.2" clip-path="url(#sclip_an_hwf)"/>
</svg>
<div class="t" style="left:-96.2px;width:400px;text-align:center;top:-1.30px;font-size:11.6px;line-height:11.6px;color:#000;">Observation</div><div class="t" style="left:68.5px;width:400px;text-align:center;top:-1.30px;font-size:11.6px;line-height:11.6px;color:#000;">Hindcast</div><div class="t" style="left:223.3px;width:400px;text-align:center;top:-1.30px;font-size:11.6px;line-height:11.6px;color:#000;">Forecast</div><div class="t" style="left:360.6px;width:400px;text-align:center;top:-1.30px;font-size:11.6px;line-height:11.6px;color:#000;">Anomaly</div><div class="t" style="left:-123.5px;width:400px;text-align:center;top:21.50px;font-size:9px;line-height:9px;color:#000;">50° E</div><div style="position:absolute;left:76.0px;top:29.9px;width:1px;height:3px;background:#555"></div><div class="t" style="left:-57px;width:400px;text-align:center;top:21.50px;font-size:9px;line-height:9px;color:#000;">60° E</div><div style="position:absolute;left:142.5px;top:29.9px;width:1px;height:3px;background:#555"></div><div class="t" style="left:28.900000000000006px;width:400px;text-align:center;top:21.50px;font-size:9px;line-height:9px;color:#000;">50° E</div><div style="position:absolute;left:228.4px;top:31.0px;width:1px;height:3px;background:#555"></div><div class="t" style="left:95.39999999999998px;width:400px;text-align:center;top:21.50px;font-size:9px;line-height:9px;color:#000;">60° E</div><div style="position:absolute;left:294.9px;top:31.0px;width:1px;height:3px;background:#555"></div><div class="t" style="left:180.7px;width:400px;text-align:center;top:21.50px;font-size:9px;line-height:9px;color:#000;">50° E</div><div style="position:absolute;left:380.2px;top:30.0px;width:1px;height:3px;background:#555"></div><div class="t" style="left:247.2px;width:400px;text-align:center;top:21.50px;font-size:9px;line-height:9px;color:#000;">60° E</div><div style="position:absolute;left:446.7px;top:30.0px;width:1px;height:3px;background:#555"></div><div class="t" style="left:338.20000000000005px;width:400px;text-align:center;top:21.50px;font-size:9px;line-height:9px;color:#000;">50° E</div><div style="position:absolute;left:537.7px;top:30.9px;width:1px;height:3px;background:#555"></div><div class="t" style="left:404.70000000000005px;width:400px;text-align:center;top:21.50px;font-size:9px;line-height:9px;color:#000;">60° E</div><div style="position:absolute;left:604.2px;top:30.9px;width:1px;height:3px;background:#555"></div><div class="t" style="left:22.85px;top:116.00px;width:100px;text-align:center;font-size:8.7px;line-height:8.7px;transform-origin:0 0;transform:rotate(-90deg)">36° N</div><div class="t" style="left:22.85px;top:175.70px;width:100px;text-align:center;font-size:8.7px;line-height:8.7px;transform-origin:0 0;transform:rotate(-90deg)">29° N</div><div style="position:absolute;left:31px;top:65.3px;width:3px;height:1px;background:#555"></div><div style="position:absolute;left:31px;top:125.3px;width:3px;height:1px;background:#555"></div><div class="t" style="left:22.85px;top:299.20px;width:100px;text-align:center;font-size:8.7px;line-height:8.7px;transform-origin:0 0;transform:rotate(-90deg)">36° N</div><div class="t" style="left:22.85px;top:358.90px;width:100px;text-align:center;font-size:8.7px;line-height:8.7px;transform-origin:0 0;transform:rotate(-90deg)">29° N</div><div style="position:absolute;left:31px;top:248.5px;width:3px;height:1px;background:#555"></div><div style="position:absolute;left:31px;top:308.5px;width:3px;height:1px;background:#555"></div><div class="t" style="left:-1.40px;top:146.60px;width:100px;text-align:center;font-size:12px;line-height:12px;transform-origin:0 0;transform:rotate(-90deg)">HWD</div><div class="t" style="left:-0.40px;top:325.00px;width:100px;text-align:center;font-size:12px;line-height:12px;transform-origin:0 0;transform:rotate(-90deg)">HWF</div><div style="position:absolute;left:34.3px;top:176.9px;width:452.10px;height:10.3px;display:flex;outline:0.6px solid #999"><div style="flex:1;background:#FFFCDC;box-shadow:inset -0.6px 0 0 rgba(0,0,0,0.25)"></div><div style="flex:1;background:#FFFA9A;box-shadow:inset -0.6px 0 0 rgba(0,0,0,0.25)"></div><div style="flex:1;background:#FFF880;box-shadow:inset -0.6px 0 0 rgba(0,0,0,0.25)"></div><div style="flex:1;background:#FFF660;box-shadow:inset -0.6px 0 0 rgba(0,0,0,0.25)"></div><div style="flex:1;background:#FFF83A;box-shadow:inset -0.6px 0 0 rgba(0,0,0,0.25)"></div><div style="flex:1;background:#FFFF00;box-shadow:inset -0.6px 0 0 rgba(0,0,0,0.25)"></div><div style="flex:1;background:#FFEC00;box-shadow:inset -0.6px 0 0 rgba(0,0,0,0.25)"></div><div style="flex:1;background:#FFDC00;box-shadow:inset -0.6px 0 0 rgba(0,0,0,0.25)"></div><div style="flex:1;background:#FFCC00;box-shadow:inset -0.6px 0 0 rgba(0,0,0,0.25)"></div><div style="flex:1;background:#FFB800;box-shadow:inset -0.6px 0 0 rgba(0,0,0,0.25)"></div><div style="flex:1;background:#FFA000;box-shadow:inset -0.6px 0 0 rgba(0,0,0,0.25)"></div><div style="flex:1;background:#FF9000;box-shadow:inset -0.6px 0 0 rgba(0,0,0,0.25)"></div><div style="flex:1;background:#FF8000;box-shadow:inset -0.6px 0 0 rgba(0,0,0,0.25)"></div><div style="flex:1;background:#FF6E00;box-shadow:inset -0.6px 0 0 rgba(0,0,0,0.25)"></div><div style="flex:1;background:#FF5A00;box-shadow:inset -0.6px 0 0 rgba(0,0,0,0.25)"></div><div style="flex:1;background:#FF4000;box-shadow:inset -0.6px 0 0 rgba(0,0,0,0.25)"></div><div style="flex:1;background:#FF2A00;box-shadow:inset -0.6px 0 0 rgba(0,0,0,0.25)"></div><div style="flex:1;background:#FF0000;box-shadow:inset -0.6px 0 0 rgba(0,0,0,0.25)"></div><div style="flex:1;background:#EE0000;box-shadow:inset -0.6px 0 0 rgba(0,0,0,0.25)"></div><div style="flex:1;background:#DD0000;box-shadow:inset -0.6px 0 0 rgba(0,0,0,0.25)"></div><div style="flex:1;background:#C00000;box-shadow:inset -0.6px 0 0 rgba(0,0,0,0.25)"></div><div style="flex:1;background:#A00000;box-shadow:inset -0.6px 0 0 rgba(0,0,0,0.25)"></div><div style="flex:1;background:#880000;box-shadow:inset -0.6px 0 0 rgba(0,0,0,0.25)"></div><div style="flex:1;background:#5A0000;box-shadow:inset -0.6px 0 0 rgba(0,0,0,0.25)"></div><div style="flex:1;background:#2A0000;box-shadow:inset -0.6px 0 0 rgba(0,0,0,0.25)"></div><div style="flex:1;background:#6A2A6A;box-shadow:inset -0.6px 0 0 rgba(0,0,0,0.25)"></div><div style="flex:1;background:#BB00BB;box-shadow:inset -0.6px 0 0 rgba(0,0,0,0.25)"></div><div style="flex:1;background:#EE00EE;box-shadow:inset -0.6px 0 0 rgba(0,0,0,0.25)"></div><div style="flex:1;background:#FF55FF;box-shadow:inset -0.6px 0 0 rgba(0,0,0,0.25)"></div><div style="flex:1;background:#FF99FF;box-shadow:inset -0.6px 0 0 rgba(0,0,0,0.25)"></div></div><div class="t" style="left:38.10px;top:251.30px;width:60px;text-align:right;font-size:8.2px;line-height:8.2px;transform-origin:0 0;transform:rotate(-90deg)">4.24</div><div class="t" style="left:53.30px;top:251.30px;width:60px;text-align:right;font-size:8.2px;line-height:8.2px;transform-origin:0 0;transform:rotate(-90deg)">4.47</div><div class="t" style="left:68.50px;top:251.30px;width:60px;text-align:right;font-size:8.2px;line-height:8.2px;transform-origin:0 0;transform:rotate(-90deg)">4.69</div><div class="t" style="left:83.70px;top:251.30px;width:60px;text-align:right;font-size:8.2px;line-height:8.2px;transform-origin:0 0;transform:rotate(-90deg)">4.92</div><div class="t" style="left:98.90px;top:251.30px;width:60px;text-align:right;font-size:8.2px;line-height:8.2px;transform-origin:0 0;transform:rotate(-90deg)">5.14</div><div class="t" style="left:114.10px;top:251.30px;width:60px;text-align:right;font-size:8.2px;line-height:8.2px;transform-origin:0 0;transform:rotate(-90deg)">5.37</div><div class="t" style="left:129.30px;top:251.30px;width:60px;text-align:right;font-size:8.2px;line-height:8.2px;transform-origin:0 0;transform:rotate(-90deg)">5.59</div><div class="t" style="left:144.50px;top:251.30px;width:60px;text-align:right;font-size:8.2px;line-height:8.2px;transform-origin:0 0;transform:rotate(-90deg)">5.82</div><div class="t" style="left:159.70px;top:251.30px;width:60px;text-align:right;font-size:8.2px;line-height:8.2px;transform-origin:0 0;transform:rotate(-90deg)">6.04</div><div class="t" style="left:174.90px;top:251.30px;width:60px;text-align:right;font-size:8.2px;line-height:8.2px;transform-origin:0 0;transform:rotate(-90deg)">6.27</div><div class="t" style="left:190.10px;top:251.30px;width:60px;text-align:right;font-size:8.2px;line-height:8.2px;transform-origin:0 0;transform:rotate(-90deg)">6.49</div><div class="t" style="left:205.30px;top:251.30px;width:60px;text-align:right;font-size:8.2px;line-height:8.2px;transform-origin:0 0;transform:rotate(-90deg)">6.72</div><div class="t" style="left:220.50px;top:251.30px;width:60px;text-align:right;font-size:8.2px;line-height:8.2px;transform-origin:0 0;transform:rotate(-90deg)">6.94</div><div class="t" style="left:235.70px;top:251.30px;width:60px;text-align:right;font-size:8.2px;line-height:8.2px;transform-origin:0 0;transform:rotate(-90deg)">7.17</div><div class="t" style="left:250.90px;top:251.30px;width:60px;text-align:right;font-size:8.2px;line-height:8.2px;transform-origin:0 0;transform:rotate(-90deg)">7.39</div><div class="t" style="left:266.10px;top:251.30px;width:60px;text-align:right;font-size:8.2px;line-height:8.2px;transform-origin:0 0;transform:rotate(-90deg)">7.62</div><div class="t" style="left:281.30px;top:251.30px;width:60px;text-align:right;font-size:8.2px;line-height:8.2px;transform-origin:0 0;transform:rotate(-90deg)">7.84</div><div class="t" style="left:296.50px;top:251.30px;width:60px;text-align:right;font-size:8.2px;line-height:8.2px;transform-origin:0 0;transform:rotate(-90deg)">8.07</div><div class="t" style="left:311.70px;top:251.30px;width:60px;text-align:right;font-size:8.2px;line-height:8.2px;transform-origin:0 0;transform:rotate(-90deg)">8.29</div><div class="t" style="left:326.90px;top:251.30px;width:60px;text-align:right;font-size:8.2px;line-height:8.2px;transform-origin:0 0;transform:rotate(-90deg)">8.52</div><div class="t" style="left:342.10px;top:251.30px;width:60px;text-align:right;font-size:8.2px;line-height:8.2px;transform-origin:0 0;transform:rotate(-90deg)">8.74</div><div class="t" style="left:357.30px;top:251.30px;width:60px;text-align:right;font-size:8.2px;line-height:8.2px;transform-origin:0 0;transform:rotate(-90deg)">8.97</div><div class="t" style="left:372.50px;top:251.30px;width:60px;text-align:right;font-size:8.2px;line-height:8.2px;transform-origin:0 0;transform:rotate(-90deg)">9.19</div><div class="t" style="left:387.70px;top:251.30px;width:60px;text-align:right;font-size:8.2px;line-height:8.2px;transform-origin:0 0;transform:rotate(-90deg)">9.42</div><div class="t" style="left:402.90px;top:251.30px;width:60px;text-align:right;font-size:8.2px;line-height:8.2px;transform-origin:0 0;transform:rotate(-90deg)">9.64</div><div class="t" style="left:418.10px;top:251.30px;width:60px;text-align:right;font-size:8.2px;line-height:8.2px;transform-origin:0 0;transform:rotate(-90deg)">9.87</div><div class="t" style="left:433.30px;top:251.30px;width:60px;text-align:right;font-size:8.2px;line-height:8.2px;transform-origin:0 0;transform:rotate(-90deg)">10.09</div><div class="t" style="left:448.50px;top:251.30px;width:60px;text-align:right;font-size:8.2px;line-height:8.2px;transform-origin:0 0;transform:rotate(-90deg)">10.32</div><div class="t" style="left:463.70px;top:251.30px;width:60px;text-align:right;font-size:8.2px;line-height:8.2px;transform-origin:0 0;transform:rotate(-90deg)">10.54</div><div class="t" style="left:478.90px;top:251.30px;width:60px;text-align:right;font-size:8.2px;line-height:8.2px;transform-origin:0 0;transform:rotate(-90deg)">10.77</div><div style="position:absolute;left:495.8px;top:176.7px;width:141.45px;height:9.9px;display:flex;outline:0.6px solid #999"><div style="flex:1;background:#CCCCFF;box-shadow:inset -0.6px 0 0 rgba(0,0,0,0.25)"></div><div style="flex:1;background:#FFEAEA;box-shadow:inset -0.6px 0 0 rgba(0,0,0,0.25)"></div><div style="flex:1;background:#FFCCCC;box-shadow:inset -0.6px 0 0 rgba(0,0,0,0.25)"></div><div style="flex:1;background:#FFAAAA;box-shadow:inset -0.6px 0 0 rgba(0,0,0,0.25)"></div><div style="flex:1;background:#FF8282;box-shadow:inset -0.6px 0 0 rgba(0,0,0,0.25)"></div><div style="flex:1;background:#FF5A5A;box-shadow:inset -0.6px 0 0 rgba(0,0,0,0.25)"></div><div style="flex:1;background:#FF3434;box-shadow:inset -0.6px 0 0 rgba(0,0,0,0.25)"></div><div style="flex:1;background:#FF1414;box-shadow:inset -0.6px 0 0 rgba(0,0,0,0.25)"></div><div style="flex:1;background:#EE0000;box-shadow:inset -0.6px 0 0 rgba(0,0,0,0.25)"></div><div style="flex:1;background:#CC0000;box-shadow:inset -0.6px 0 0 rgba(0,0,0,0.25)"></div><div style="flex:1;background:#AA0000;box-shadow:inset -0.6px 0 0 rgba(0,0,0,0.25)"></div><div style="flex:1;background:#880000;box-shadow:inset -0.6px 0 0 rgba(0,0,0,0.25)"></div><div style="flex:1;background:#660000;box-shadow:inset -0.6px 0 0 rgba(0,0,0,0.25)"></div><div style="flex:1;background:#420000;box-shadow:inset -0.6px 0 0 rgba(0,0,0,0.25)"></div><div style="flex:1;background:#0E0000;box-shadow:inset -0.6px 0 0 rgba(0,0,0,0.25)"></div></div><div class="t" style="left:496.90px;top:250.70px;width:60px;text-align:right;font-size:8.2px;line-height:8.2px;transform-origin:0 0;transform:rotate(-90deg)">-0.5</div><div class="t" style="left:507.50px;top:250.70px;width:60px;text-align:right;font-size:8.2px;line-height:8.2px;transform-origin:0 0;transform:rotate(-90deg)">0.09</div><div class="t" style="left:517.50px;top:250.70px;width:60px;text-align:right;font-size:8.2px;line-height:8.2px;transform-origin:0 0;transform:rotate(-90deg)">0.4</div><div class="t" style="left:526.80px;top:250.70px;width:60px;text-align:right;font-size:8.2px;line-height:8.2px;transform-origin:0 0;transform:rotate(-90deg)">0.7</div><div class="t" style="left:536.60px;top:250.70px;width:60px;text-align:right;font-size:8.2px;line-height:8.2px;transform-origin:0 0;transform:rotate(-90deg)">1.01</div><div class="t" style="left:546.50px;top:250.70px;width:60px;text-align:right;font-size:8.2px;line-height:8.2px;transform-origin:0 0;transform:rotate(-90deg)">1.3</div><div class="t" style="left:555.30px;top:250.70px;width:60px;text-align:right;font-size:8.2px;line-height:8.2px;transform-origin:0 0;transform:rotate(-90deg)">1.6</div><div class="t" style="left:564.70px;top:250.70px;width:60px;text-align:right;font-size:8.2px;line-height:8.2px;transform-origin:0 0;transform:rotate(-90deg)">1.9</div><div class="t" style="left:574.50px;top:250.70px;width:60px;text-align:right;font-size:8.2px;line-height:8.2px;transform-origin:0 0;transform:rotate(-90deg)">2.2</div><div class="t" style="left:583.40px;top:250.70px;width:60px;text-align:right;font-size:8.2px;line-height:8.2px;transform-origin:0 0;transform:rotate(-90deg)">2.5</div><div class="t" style="left:593.20px;top:250.70px;width:60px;text-align:right;font-size:8.2px;line-height:8.2px;transform-origin:0 0;transform:rotate(-90deg)">2.8</div><div class="t" style="left:602.50px;top:250.70px;width:60px;text-align:right;font-size:8.2px;line-height:8.2px;transform-origin:0 0;transform:rotate(-90deg)">3.1</div><div class="t" style="left:612.60px;top:250.70px;width:60px;text-align:right;font-size:8.2px;line-height:8.2px;transform-origin:0 0;transform:rotate(-90deg)">3.4</div><div class="t" style="left:622.60px;top:250.70px;width:60px;text-align:right;font-size:8.2px;line-height:8.2px;transform-origin:0 0;transform:rotate(-90deg)">3.7</div><div class="t" style="left:632.90px;top:250.70px;width:60px;text-align:right;font-size:8.2px;line-height:8.2px;transform-origin:0 0;transform:rotate(-90deg)">4.06</div><div style="position:absolute;left:34.3px;top:361.4px;width:452.10px;height:10.3px;display:flex;outline:0.6px solid #999"><div style="flex:1;background:#FFFCDC;box-shadow:inset -0.6px 0 0 rgba(0,0,0,0.25)"></div><div style="flex:1;background:#FFFA9A;box-shadow:inset -0.6px 0 0 rgba(0,0,0,0.25)"></div><div style="flex:1;background:#FFF880;box-shadow:inset -0.6px 0 0 rgba(0,0,0,0.25)"></div><div style="flex:1;background:#FFF660;box-shadow:inset -0.6px 0 0 rgba(0,0,0,0.25)"></div><div style="flex:1;background:#FFF83A;box-shadow:inset -0.6px 0 0 rgba(0,0,0,0.25)"></div><div style="flex:1;background:#FFFF00;box-shadow:inset -0.6px 0 0 rgba(0,0,0,0.25)"></div><div style="flex:1;background:#FFEC00;box-shadow:inset -0.6px 0 0 rgba(0,0,0,0.25)"></div><div style="flex:1;background:#FFDC00;box-shadow:inset -0.6px 0 0 rgba(0,0,0,0.25)"></div><div style="flex:1;background:#FFCC00;box-shadow:inset -0.6px 0 0 rgba(0,0,0,0.25)"></div><div style="flex:1;background:#FFB800;box-shadow:inset -0.6px 0 0 rgba(0,0,0,0.25)"></div><div style="flex:1;background:#FFA000;box-shadow:inset -0.6px 0 0 rgba(0,0,0,0.25)"></div><div style="flex:1;background:#FF9000;box-shadow:inset -0.6px 0 0 rgba(0,0,0,0.25)"></div><div style="flex:1;background:#FF8000;box-shadow:inset -0.6px 0 0 rgba(0,0,0,0.25)"></div><div style="flex:1;background:#FF6E00;box-shadow:inset -0.6px 0 0 rgba(0,0,0,0.25)"></div><div style="flex:1;background:#FF5A00;box-shadow:inset -0.6px 0 0 rgba(0,0,0,0.25)"></div><div style="flex:1;background:#FF4000;box-shadow:inset -0.6px 0 0 rgba(0,0,0,0.25)"></div><div style="flex:1;background:#FF2A00;box-shadow:inset -0.6px 0 0 rgba(0,0,0,0.25)"></div><div style="flex:1;background:#FF0000;box-shadow:inset -0.6px 0 0 rgba(0,0,0,0.25)"></div><div style="flex:1;background:#EE0000;box-shadow:inset -0.6px 0 0 rgba(0,0,0,0.25)"></div><div style="flex:1;background:#DD0000;box-shadow:inset -0.6px 0 0 rgba(0,0,0,0.25)"></div><div style="flex:1;background:#C00000;box-shadow:inset -0.6px 0 0 rgba(0,0,0,0.25)"></div><div style="flex:1;background:#A00000;box-shadow:inset -0.6px 0 0 rgba(0,0,0,0.25)"></div><div style="flex:1;background:#880000;box-shadow:inset -0.6px 0 0 rgba(0,0,0,0.25)"></div><div style="flex:1;background:#5A0000;box-shadow:inset -0.6px 0 0 rgba(0,0,0,0.25)"></div><div style="flex:1;background:#2A0000;box-shadow:inset -0.6px 0 0 rgba(0,0,0,0.25)"></div><div style="flex:1;background:#6A2A6A;box-shadow:inset -0.6px 0 0 rgba(0,0,0,0.25)"></div><div style="flex:1;background:#BB00BB;box-shadow:inset -0.6px 0 0 rgba(0,0,0,0.25)"></div><div style="flex:1;background:#EE00EE;box-shadow:inset -0.6px 0 0 rgba(0,0,0,0.25)"></div><div style="flex:1;background:#FF55FF;box-shadow:inset -0.6px 0 0 rgba(0,0,0,0.25)"></div><div style="flex:1;background:#FF99FF;box-shadow:inset -0.6px 0 0 rgba(0,0,0,0.25)"></div></div><div class="t" style="left:37.20px;top:435.00px;width:60px;text-align:right;font-size:8.2px;line-height:8.2px;transform-origin:0 0;transform:rotate(-90deg)">5.66</div><div class="t" style="left:52.42px;top:435.00px;width:60px;text-align:right;font-size:8.2px;line-height:8.2px;transform-origin:0 0;transform:rotate(-90deg)">6.10</div><div class="t" style="left:67.64px;top:435.00px;width:60px;text-align:right;font-size:8.2px;line-height:8.2px;transform-origin:0 0;transform:rotate(-90deg)">6.54</div><div class="t" style="left:82.86px;top:435.00px;width:60px;text-align:right;font-size:8.2px;line-height:8.2px;transform-origin:0 0;transform:rotate(-90deg)">6.97</div><div class="t" style="left:98.08px;top:435.00px;width:60px;text-align:right;font-size:8.2px;line-height:8.2px;transform-origin:0 0;transform:rotate(-90deg)">7.41</div><div class="t" style="left:113.30px;top:435.00px;width:60px;text-align:right;font-size:8.2px;line-height:8.2px;transform-origin:0 0;transform:rotate(-90deg)">7.85</div><div class="t" style="left:128.52px;top:435.00px;width:60px;text-align:right;font-size:8.2px;line-height:8.2px;transform-origin:0 0;transform:rotate(-90deg)">8.28</div><div class="t" style="left:143.74px;top:435.00px;width:60px;text-align:right;font-size:8.2px;line-height:8.2px;transform-origin:0 0;transform:rotate(-90deg)">8.72</div><div class="t" style="left:158.96px;top:435.00px;width:60px;text-align:right;font-size:8.2px;line-height:8.2px;transform-origin:0 0;transform:rotate(-90deg)">9.16</div><div class="t" style="left:174.18px;top:435.00px;width:60px;text-align:right;font-size:8.2px;line-height:8.2px;transform-origin:0 0;transform:rotate(-90deg)">9.6</div><div class="t" style="left:189.40px;top:435.00px;width:60px;text-align:right;font-size:8.2px;line-height:8.2px;transform-origin:0 0;transform:rotate(-90deg)">10.03</div><div class="t" style="left:204.62px;top:435.00px;width:60px;text-align:right;font-size:8.2px;line-height:8.2px;transform-origin:0 0;transform:rotate(-90deg)">10.51</div><div class="t" style="left:219.84px;top:435.00px;width:60px;text-align:right;font-size:8.2px;line-height:8.2px;transform-origin:0 0;transform:rotate(-90deg)">10.99</div><div class="t" style="left:235.06px;top:435.00px;width:60px;text-align:right;font-size:8.2px;line-height:8.2px;transform-origin:0 0;transform:rotate(-90deg)">11.47</div><div class="t" style="left:250.28px;top:435.00px;width:60px;text-align:right;font-size:8.2px;line-height:8.2px;transform-origin:0 0;transform:rotate(-90deg)">11.95</div><div class="t" style="left:265.50px;top:435.00px;width:60px;text-align:right;font-size:8.2px;line-height:8.2px;transform-origin:0 0;transform:rotate(-90deg)">12.43</div><div class="t" style="left:280.72px;top:435.00px;width:60px;text-align:right;font-size:8.2px;line-height:8.2px;transform-origin:0 0;transform:rotate(-90deg)">13.21</div><div class="t" style="left:295.94px;top:435.00px;width:60px;text-align:right;font-size:8.2px;line-height:8.2px;transform-origin:0 0;transform:rotate(-90deg)">13.99</div><div class="t" style="left:311.16px;top:435.00px;width:60px;text-align:right;font-size:8.2px;line-height:8.2px;transform-origin:0 0;transform:rotate(-90deg)">14.77</div><div class="t" style="left:326.38px;top:435.00px;width:60px;text-align:right;font-size:8.2px;line-height:8.2px;transform-origin:0 0;transform:rotate(-90deg)">15.55</div><div class="t" style="left:341.60px;top:435.00px;width:60px;text-align:right;font-size:8.2px;line-height:8.2px;transform-origin:0 0;transform:rotate(-90deg)">16.33</div><div class="t" style="left:356.82px;top:435.00px;width:60px;text-align:right;font-size:8.2px;line-height:8.2px;transform-origin:0 0;transform:rotate(-90deg)">17.11</div><div class="t" style="left:372.04px;top:435.00px;width:60px;text-align:right;font-size:8.2px;line-height:8.2px;transform-origin:0 0;transform:rotate(-90deg)">17.89</div><div class="t" style="left:387.26px;top:435.00px;width:60px;text-align:right;font-size:8.2px;line-height:8.2px;transform-origin:0 0;transform:rotate(-90deg)">18.66</div><div class="t" style="left:402.48px;top:435.00px;width:60px;text-align:right;font-size:8.2px;line-height:8.2px;transform-origin:0 0;transform:rotate(-90deg)">19.44</div><div class="t" style="left:417.70px;top:435.00px;width:60px;text-align:right;font-size:8.2px;line-height:8.2px;transform-origin:0 0;transform:rotate(-90deg)">20.22</div><div class="t" style="left:432.92px;top:435.00px;width:60px;text-align:right;font-size:8.2px;line-height:8.2px;transform-origin:0 0;transform:rotate(-90deg)">21.0</div><div class="t" style="left:448.14px;top:435.00px;width:60px;text-align:right;font-size:8.2px;line-height:8.2px;transform-origin:0 0;transform:rotate(-90deg)">21.78</div><div class="t" style="left:463.36px;top:435.00px;width:60px;text-align:right;font-size:8.2px;line-height:8.2px;transform-origin:0 0;transform:rotate(-90deg)">22.56</div><div class="t" style="left:478.58px;top:435.00px;width:60px;text-align:right;font-size:8.2px;line-height:8.2px;transform-origin:0 0;transform:rotate(-90deg)">23.34</div><div style="position:absolute;left:496.8px;top:361.5px;width:142.05px;height:10.3px;display:flex;outline:0.6px solid #999"><div style="flex:1;background:#FFE8E8;box-shadow:inset -0.6px 0 0 rgba(0,0,0,0.25)"></div><div style="flex:1;background:#FFD0D0;box-shadow:inset -0.6px 0 0 rgba(0,0,0,0.25)"></div><div style="flex:1;background:#FFB4B4;box-shadow:inset -0.6px 0 0 rgba(0,0,0,0.25)"></div><div style="flex:1;background:#FF9A9A;box-shadow:inset -0.6px 0 0 rgba(0,0,0,0.25)"></div><div style="flex:1;background:#FF8080;box-shadow:inset -0.6px 0 0 rgba(0,0,0,0.25)"></div><div style="flex:1;background:#FF5858;box-shadow:inset -0.6px 0 0 rgba(0,0,0,0.25)"></div><div style="flex:1;background:#FF3A3A;box-shadow:inset -0.6px 0 0 rgba(0,0,0,0.25)"></div><div style="flex:1;background:#FF1C1C;box-shadow:inset -0.6px 0 0 rgba(0,0,0,0.25)"></div><div style="flex:1;background:#E80000;box-shadow:inset -0.6px 0 0 rgba(0,0,0,0.25)"></div><div style="flex:1;background:#CC0000;box-shadow:inset -0.6px 0 0 rgba(0,0,0,0.25)"></div><div style="flex:1;background:#AA0000;box-shadow:inset -0.6px 0 0 rgba(0,0,0,0.25)"></div><div style="flex:1;background:#8C0000;box-shadow:inset -0.6px 0 0 rgba(0,0,0,0.25)"></div><div style="flex:1;background:#6E0000;box-shadow:inset -0.6px 0 0 rgba(0,0,0,0.25)"></div><div style="flex:1;background:#520000;box-shadow:inset -0.6px 0 0 rgba(0,0,0,0.25)"></div><div style="flex:1;background:#360000;box-shadow:inset -0.6px 0 0 rgba(0,0,0,0.25)"></div></div><div class="t" style="left:498.90px;top:435.20px;width:60px;text-align:right;font-size:8.2px;line-height:8.2px;transform-origin:0 0;transform:rotate(-90deg)">0.4</div><div class="t" style="left:508.42px;top:435.20px;width:60px;text-align:right;font-size:8.2px;line-height:8.2px;transform-origin:0 0;transform:rotate(-90deg)">3.4</div><div class="t" style="left:517.94px;top:435.20px;width:60px;text-align:right;font-size:8.2px;line-height:8.2px;transform-origin:0 0;transform:rotate(-90deg)">4.2</div><div class="t" style="left:527.46px;top:435.20px;width:60px;text-align:right;font-size:8.2px;line-height:8.2px;transform-origin:0 0;transform:rotate(-90deg)">4.8</div><div class="t" style="left:536.98px;top:435.20px;width:60px;text-align:right;font-size:8.2px;line-height:8.2px;transform-origin:0 0;transform:rotate(-90deg)">5.2</div><div class="t" style="left:546.50px;top:435.20px;width:60px;text-align:right;font-size:8.2px;line-height:8.2px;transform-origin:0 0;transform:rotate(-90deg)">5.4</div><div class="t" style="left:556.02px;top:435.20px;width:60px;text-align:right;font-size:8.2px;line-height:8.2px;transform-origin:0 0;transform:rotate(-90deg)">5.6</div><div class="t" style="left:565.54px;top:435.20px;width:60px;text-align:right;font-size:8.2px;line-height:8.2px;transform-origin:0 0;transform:rotate(-90deg)">5.8</div><div class="t" style="left:575.06px;top:435.20px;width:60px;text-align:right;font-size:8.2px;line-height:8.2px;transform-origin:0 0;transform:rotate(-90deg)">6.2</div><div class="t" style="left:584.58px;top:435.20px;width:60px;text-align:right;font-size:8.2px;line-height:8.2px;transform-origin:0 0;transform:rotate(-90deg)">6.8</div><div class="t" style="left:594.10px;top:435.20px;width:60px;text-align:right;font-size:8.2px;line-height:8.2px;transform-origin:0 0;transform:rotate(-90deg)">7.6</div><div class="t" style="left:603.62px;top:435.20px;width:60px;text-align:right;font-size:8.2px;line-height:8.2px;transform-origin:0 0;transform:rotate(-90deg)">8.8</div><div class="t" style="left:613.14px;top:435.20px;width:60px;text-align:right;font-size:8.2px;line-height:8.2px;transform-origin:0 0;transform:rotate(-90deg)">10.6</div><div class="t" style="left:622.66px;top:435.20px;width:60px;text-align:right;font-size:8.2px;line-height:8.2px;transform-origin:0 0;transform:rotate(-90deg)">13.3</div><div class="t" style="left:632.18px;top:435.20px;width:60px;text-align:right;font-size:8.2px;line-height:8.2px;transform-origin:0 0;transform:rotate(-90deg)">17.1</div><div style="position:absolute;left:174.60px;top:410.8px;width:1.3px;height:398.7px;background:#2F6FE8"></div><div class="t" style="left:-20.849999999999994px;width:400px;text-align:center;top:398.95px;font-size:10.9px;line-height:10.9px;color:#1565E8;">Mean = 5.48</div><div style="position:absolute;left:49.00px;top:422.90px;width:150.75px;height:8.4px;background:#0058E0;box-sizing:border-box;border:0.8px solid #0A3C9A"></div><div class="t" style="left:-359.8px;width:400px;text-align:right;top:422.80px;font-size:10px;line-height:10px;color:#000;">2028</div><div class="t" style="left:201.75px;top:423.30px;font-size:8.2px;line-height:8.2px;color:#000;">6.7</div><div style="position:absolute;left:49.00px;top:433.60px;width:189.00px;height:8.4px;background:#0058E0;box-sizing:border-box;border:0.8px solid #0A3C9A"></div><div class="t" style="left:-359.8px;width:400px;text-align:right;top:433.50px;font-size:10px;line-height:10px;color:#000;">2027</div><div class="t" style="left:240.0px;top:434.00px;font-size:8.2px;line-height:8.2px;color:#000;">8.4</div><div style="position:absolute;left:49.00px;top:445.20px;width:105.75px;height:8.4px;background:#0058E0;box-sizing:border-box;border:0.8px solid #0A3C9A"></div><div class="t" style="left:-359.8px;width:400px;text-align:right;top:445.10px;font-size:10px;line-height:10px;color:#000;">2026</div><div class="t" style="left:156.75px;top:445.60px;font-size:8.2px;line-height:8.2px;color:#000;">4.7</div><div style="position:absolute;left:49.00px;top:456.00px;width:135.22px;height:8.4px;background:#0058E0;box-sizing:border-box;border:0.8px solid #0A3C9A"></div><div class="t" style="left:-359.8px;width:400px;text-align:right;top:455.90px;font-size:10px;line-height:10px;color:#000;">2025</div><div class="t" style="left:186.225px;top:456.40px;font-size:8.2px;line-height:8.2px;color:#000;">6.01</div><div style="position:absolute;left:49.00px;top:466.60px;width:200.25px;height:8.4px;background:#0058E0;box-sizing:border-box;border:0.8px solid #0A3C9A"></div><div class="t" style="left:-359.8px;width:400px;text-align:right;top:466.50px;font-size:10px;line-height:10px;color:#000;">2024</div><div class="t" style="left:251.25px;top:467.00px;font-size:8.2px;line-height:8.2px;color:#000;">8.9</div><div style="position:absolute;left:49.00px;top:477.90px;width:173.25px;height:8.4px;background:#FF0000;box-sizing:border-box;border:0.8px solid #8A1010"></div><div class="t" style="left:-359.8px;width:400px;text-align:right;top:477.80px;font-size:10px;line-height:10px;color:#000;">2023</div><div class="t" style="left:224.25px;top:478.30px;font-size:8.2px;line-height:8.2px;color:#000;">7.7</div><div style="position:absolute;left:49.00px;top:507.90px;width:148.50px;height:8.4px;background:#0058E0;box-sizing:border-box;border:0.8px solid #0A3C9A"></div><div class="t" style="left:-359.8px;width:400px;text-align:right;top:507.80px;font-size:10px;line-height:10px;color:#000;">2019</div><div class="t" style="left:199.5px;top:508.30px;font-size:8.2px;line-height:8.2px;color:#000;">6.6</div><div style="position:absolute;left:49.00px;top:518.27px;width:175.50px;height:8.4px;background:#0058E0;box-sizing:border-box;border:0.8px solid #0A3C9A"></div><div class="t" style="left:-359.8px;width:400px;text-align:right;top:518.18px;font-size:10px;line-height:10px;color:#000;">2018</div><div class="t" style="left:226.5px;top:518.67px;font-size:8.2px;line-height:8.2px;color:#000;">7.8</div><div style="position:absolute;left:49.00px;top:528.65px;width:200.25px;height:8.4px;background:#0058E0;box-sizing:border-box;border:0.8px solid #0A3C9A"></div><div class="t" style="left:-359.8px;width:400px;text-align:right;top:528.55px;font-size:10px;line-height:10px;color:#000;">2017</div><div class="t" style="left:251.25px;top:529.05px;font-size:8.2px;line-height:8.2px;color:#000;">8.9</div><div style="position:absolute;left:49.00px;top:539.02px;width:218.25px;height:8.4px;background:#FF0000;box-sizing:border-box;border:0.8px solid #8A1010"></div><div class="t" style="left:-359.8px;width:400px;text-align:right;top:538.93px;font-size:10px;line-height:10px;color:#000;">2016</div><div class="t" style="left:269.25px;top:539.42px;font-size:8.2px;line-height:8.2px;color:#000;">9.7</div><div style="position:absolute;left:49.00px;top:549.40px;width:103.50px;height:8.4px;background:#FF0000;box-sizing:border-box;border:0.8px solid #8A1010"></div><div class="t" style="left:-359.8px;width:400px;text-align:right;top:549.30px;font-size:10px;line-height:10px;color:#000;">2015</div><div class="t" style="left:154.5px;top:549.80px;font-size:8.2px;line-height:8.2px;color:#000;">4.6</div><div style="position:absolute;left:49.00px;top:559.77px;width:99.00px;height:8.4px;background:#0058E0;box-sizing:border-box;border:0.8px solid #0A3C9A"></div><div class="t" style="left:-359.8px;width:400px;text-align:right;top:559.68px;font-size:10px;line-height:10px;color:#000;">2014</div><div class="t" style="left:150.0px;top:560.17px;font-size:8.2px;line-height:8.2px;color:#000;">4.4</div><div style="position:absolute;left:49.00px;top:570.15px;width:148.50px;height:8.4px;background:#0058E0;box-sizing:border-box;border:0.8px solid #0A3C9A"></div><div class="t" style="left:-359.8px;width:400px;text-align:right;top:570.05px;font-size:10px;line-height:10px;color:#000;">2013</div><div class="t" style="left:199.5px;top:570.55px;font-size:8.2px;line-height:8.2px;color:#000;">6.6</div><div style="position:absolute;left:49.00px;top:580.52px;width:117.00px;height:8.4px;background:#0058E0;box-sizing:border-box;border:0.8px solid #0A3C9A"></div><div class="t" style="left:-359.8px;width:400px;text-align:right;top:580.43px;font-size:10px;line-height:10px;color:#000;">2012</div><div class="t" style="left:168.0px;top:580.92px;font-size:8.2px;line-height:8.2px;color:#000;">5.2</div><div style="position:absolute;left:49.00px;top:590.90px;width:130.50px;height:8.4px;background:#00FFCC;box-sizing:border-box;border:0.8px solid #2A8A70"></div><div class="t" style="left:-359.8px;width:400px;text-align:right;top:590.80px;font-size:10px;line-height:10px;color:#000;">2011</div><div class="t" style="left:181.5px;top:591.30px;font-size:8.2px;line-height:8.2px;color:#000;">5.8</div><div style="position:absolute;left:49.00px;top:601.27px;width:108.00px;height:8.4px;background:#00FFCC;box-sizing:border-box;border:0.8px solid #2A8A70"></div><div class="t" style="left:-359.8px;width:400px;text-align:right;top:601.18px;font-size:10px;line-height:10px;color:#000;">2010</div><div class="t" style="left:159.0px;top:601.67px;font-size:8.2px;line-height:8.2px;color:#000;">4.8</div><div style="position:absolute;left:49.00px;top:611.65px;width:146.25px;height:8.4px;background:#0058E0;box-sizing:border-box;border:0.8px solid #0A3C9A"></div><div class="t" style="left:-359.8px;width:400px;text-align:right;top:611.55px;font-size:10px;line-height:10px;color:#000;">2009</div><div class="t" style="left:197.25px;top:612.05px;font-size:8.2px;line-height:8.2px;color:#000;">6.5</div><div style="position:absolute;left:49.00px;top:622.02px;width:105.75px;height:8.4px;background:#00FFCC;box-sizing:border-box;border:0.8px solid #2A8A70"></div><div class="t" style="left:-359.8px;width:400px;text-align:right;top:621.93px;font-size:10px;line-height:10px;color:#000;">2008</div><div class="t" style="left:156.75px;top:622.42px;font-size:8.2px;line-height:8.2px;color:#000;">4.7</div><div style="position:absolute;left:49.00px;top:632.40px;width:164.25px;height:8.4px;background:#00FFCC;box-sizing:border-box;border:0.8px solid #2A8A70"></div><div class="t" style="left:-359.8px;width:400px;text-align:right;top:632.30px;font-size:10px;line-height:10px;color:#000;">2007</div><div class="t" style="left:215.25px;top:632.80px;font-size:8.2px;line-height:8.2px;color:#000;">7.3</div><div style="position:absolute;left:49.00px;top:642.77px;width:112.72px;height:8.4px;background:#0058E0;box-sizing:border-box;border:0.8px solid #0A3C9A"></div><div class="t" style="left:-359.8px;width:400px;text-align:right;top:642.68px;font-size:10px;line-height:10px;color:#000;">2006</div><div class="t" style="left:163.725px;top:643.17px;font-size:8.2px;line-height:8.2px;color:#000;">5.01</div><div style="position:absolute;left:49.00px;top:653.15px;width:99.00px;height:8.4px;background:#0058E0;box-sizing:border-box;border:0.8px solid #0A3C9A"></div><div class="t" style="left:-359.8px;width:400px;text-align:right;top:653.05px;font-size:10px;line-height:10px;color:#000;">2005</div><div class="t" style="left:150.0px;top:653.55px;font-size:8.2px;line-height:8.2px;color:#000;">4.4</div><div style="position:absolute;left:49.00px;top:663.52px;width:105.75px;height:8.4px;background:#0058E0;box-sizing:border-box;border:0.8px solid #0A3C9A"></div><div class="t" style="left:-359.8px;width:400px;text-align:right;top:663.43px;font-size:10px;line-height:10px;color:#000;">2004</div><div class="t" style="left:156.75px;top:663.92px;font-size:8.2px;line-height:8.2px;color:#000;">4.7</div><div style="position:absolute;left:49.00px;top:673.90px;width:128.25px;height:8.4px;background:#0058E0;box-sizing:border-box;border:0.8px solid #0A3C9A"></div><div class="t" style="left:-359.8px;width:400px;text-align:right;top:673.80px;font-size:10px;line-height:10px;color:#000;">2003</div><div class="t" style="left:179.25px;top:674.30px;font-size:8.2px;line-height:8.2px;color:#000;">5.7</div><div style="position:absolute;left:49.00px;top:684.27px;width:108.00px;height:8.4px;background:#0058E0;box-sizing:border-box;border:0.8px solid #0A3C9A"></div><div class="t" style="left:-359.8px;width:400px;text-align:right;top:684.18px;font-size:10px;line-height:10px;color:#000;">2002</div><div class="t" style="left:159.0px;top:684.67px;font-size:8.2px;line-height:8.2px;color:#000;">4.8</div><div style="position:absolute;left:49.00px;top:694.65px;width:92.25px;height:8.4px;background:#0058E0;box-sizing:border-box;border:0.8px solid #0A3C9A"></div><div class="t" style="left:-359.8px;width:400px;text-align:right;top:694.55px;font-size:10px;line-height:10px;color:#000;">2001</div><div class="t" style="left:143.25px;top:695.05px;font-size:8.2px;line-height:8.2px;color:#000;">4.1</div><div style="position:absolute;left:49.00px;top:705.02px;width:114.08px;height:8.4px;background:#00FFCC;box-sizing:border-box;border:0.8px solid #2A8A70"></div><div class="t" style="left:-359.8px;width:400px;text-align:right;top:704.93px;font-size:10px;line-height:10px;color:#000;">2000</div><div class="t" style="left:165.075px;top:705.42px;font-size:8.2px;line-height:8.2px;color:#000;">5.07</div><div style="position:absolute;left:49.00px;top:715.40px;width:105.75px;height:8.4px;background:#00FFCC;box-sizing:border-box;border:0.8px solid #2A8A70"></div><div class="t" style="left:-359.8px;width:400px;text-align:right;top:715.30px;font-size:10px;line-height:10px;color:#000;">1999</div><div class="t" style="left:156.75px;top:715.80px;font-size:8.2px;line-height:8.2px;color:#000;">4.7</div><div style="position:absolute;left:49.00px;top:725.77px;width:144.00px;height:8.4px;background:#FF0000;box-sizing:border-box;border:0.8px solid #8A1010"></div><div class="t" style="left:-359.8px;width:400px;text-align:right;top:725.68px;font-size:10px;line-height:10px;color:#000;">1998</div><div class="t" style="left:195.0px;top:726.17px;font-size:8.2px;line-height:8.2px;color:#000;">6.4</div><div style="position:absolute;left:49.00px;top:736.15px;width:96.75px;height:8.4px;background:#FF0000;box-sizing:border-box;border:0.8px solid #8A1010"></div><div class="t" style="left:-359.8px;width:400px;text-align:right;top:736.05px;font-size:10px;line-height:10px;color:#000;">1997</div><div class="t" style="left:147.75px;top:736.55px;font-size:8.2px;line-height:8.2px;color:#000;">4.3</div><div style="position:absolute;left:49.00px;top:746.52px;width:141.75px;height:8.4px;background:#0058E0;box-sizing:border-box;border:0.8px solid #0A3C9A"></div><div class="t" style="left:-359.8px;width:400px;text-align:right;top:746.43px;font-size:10px;line-height:10px;color:#000;">1996</div><div class="t" style="left:192.75px;top:746.92px;font-size:8.2px;line-height:8.2px;color:#000;">6.3</div><div style="position:absolute;left:49.00px;top:756.90px;width:90.68px;height:8.4px;background:#0058E0;box-sizing:border-box;border:0.8px solid #0A3C9A"></div><div class="t" style="left:-359.8px;width:400px;text-align:right;top:756.80px;font-size:10px;line-height:10px;color:#000;">1995</div><div class="t" style="left:141.675px;top:757.30px;font-size:8.2px;line-height:8.2px;color:#000;">4.03</div><div style="position:absolute;left:49.00px;top:767.27px;width:78.75px;height:8.4px;background:#0058E0;box-sizing:border-box;border:0.8px solid #0A3C9A"></div><div class="t" style="left:-359.8px;width:400px;text-align:right;top:767.18px;font-size:10px;line-height:10px;color:#000;">1994</div><div class="t" style="left:129.75px;top:767.67px;font-size:8.2px;line-height:8.2px;color:#000;">3.5</div><div style="position:absolute;left:49.00px;top:777.65px;width:46.12px;height:8.4px;background:#0058E0;box-sizing:border-box;border:0.8px solid #0A3C9A"></div><div class="t" style="left:-359.8px;width:400px;text-align:right;top:777.55px;font-size:10px;line-height:10px;color:#000;">1993</div><div class="t" style="left:97.125px;top:778.05px;font-size:8.2px;line-height:8.2px;color:#000;">2.05</div><div style="position:absolute;left:49.00px;top:788.02px;width:136.58px;height:8.4px;background:#FF0000;box-sizing:border-box;border:0.8px solid #8A1010"></div><div class="t" style="left:-359.8px;width:400px;text-align:right;top:787.93px;font-size:10px;line-height:10px;color:#000;">1992</div><div class="t" style="left:187.57500000000002px;top:788.42px;font-size:8.2px;line-height:8.2px;color:#000;">6.07</div><div style="position:absolute;left:49.00px;top:798.40px;width:87.75px;height:8.4px;background:#FF0000;box-sizing:border-box;border:0.8px solid #8A1010"></div><div class="t" style="left:-359.8px;width:400px;text-align:right;top:798.30px;font-size:10px;line-height:10px;color:#000;">1991</div><div class="t" style="left:138.75px;top:798.80px;font-size:8.2px;line-height:8.2px;color:#000;">3.9</div><div style="position:absolute;left:48.00px;top:411.3px;width:1.6px;height:399.6px;background:#222"></div><div style="position:absolute;left:48.00px;top:809.3px;width:288.5px;height:1.6px;background:#222"></div><div class="t" style="left:-147.8px;width:400px;text-align:center;top:815.30px;font-size:10px;line-height:10px;color:#000;">0</div><div class="t" style="left:-110.1px;width:400px;text-align:center;top:815.30px;font-size:10px;line-height:10px;color:#000;">2</div><div class="t" style="left:-63.900000000000006px;width:400px;text-align:center;top:817.20px;font-size:10px;line-height:10px;color:#000;">4</div><div class="t" style="left:-22.099999999999994px;width:400px;text-align:center;top:816.30px;font-size:10px;line-height:10px;color:#000;">6</div><div class="t" style="left:27.69999999999999px;width:400px;text-align:center;top:817.20px;font-size:10px;line-height:10px;color:#000;">8</div><div class="t" style="left:81.39999999999998px;width:400px;text-align:center;top:815.90px;font-size:10px;line-height:10px;color:#000;">10</div><div class="t" style="left:56px;top:835.97px;font-size:10.65px;line-height:10.65px;color:#000;">The length of the longest heatwave based on days per year</div><div style="position:absolute;left:439.80px;top:410.8px;width:1.3px;height:398.7px;background:#2F6FE8"></div><div class="t" style="left:252.2px;width:400px;text-align:center;top:398.95px;font-size:10.9px;line-height:10.9px;color:#1565E8;">Mean = 8.37</div><div style="position:absolute;left:383.60px;top:420.40px;width:116.35px;height:10.6px;background:#0058E0;box-sizing:border-box;border:0.8px solid #0A3C9A"></div><div class="t" style="left:-25.600000000000023px;width:400px;text-align:right;top:422.80px;font-size:10px;line-height:10px;color:#000;">2028</div><div class="t" style="left:504.6492px;top:421.90px;font-size:8.2px;line-height:8.2px;color:#000;">17.06</div><div style="position:absolute;left:383.60px;top:434.30px;width:123.44px;height:9.0px;background:#0058E0;box-sizing:border-box;border:0.8px solid #0A3C9A"></div><div class="t" style="left:-25.600000000000023px;width:400px;text-align:right;top:433.50px;font-size:10px;line-height:10px;color:#000;">2027</div><div class="t" style="left:511.84200000000004px;top:435.00px;font-size:8.2px;line-height:8.2px;color:#000;">18.1</div><div style="position:absolute;left:383.60px;top:446.10px;width:64.79px;height:7.8px;background:#0058E0;box-sizing:border-box;border:0.8px solid #0A3C9A"></div><div class="t" style="left:-25.600000000000023px;width:400px;text-align:right;top:445.10px;font-size:10px;line-height:10px;color:#000;">2026</div><div class="t" style="left:453.19000000000005px;top:447.50px;font-size:8.2px;line-height:8.2px;color:#000;">9.5</div><div style="position:absolute;left:383.60px;top:455.80px;width:62.74px;height:9.0px;background:#0058E0;box-sizing:border-box;border:0.8px solid #0A3C9A"></div><div class="t" style="left:-25.600000000000023px;width:400px;text-align:right;top:455.90px;font-size:10px;line-height:10px;color:#000;">2025</div><div class="t" style="left:450.244px;top:458.00px;font-size:8.2px;line-height:8.2px;color:#000;">9.2</div><div style="position:absolute;left:383.60px;top:466.70px;width:136.60px;height:8.9px;background:#0058E0;box-sizing:border-box;border:0.8px solid #0A3C9A"></div><div class="t" style="left:-25.600000000000023px;width:400px;text-align:right;top:466.50px;font-size:10px;line-height:10px;color:#000;">2024</div><div class="t" style="left:523.6046px;top:466.35px;font-size:8.2px;line-height:8.2px;color:#000;">20.03</div><div style="position:absolute;left:383.60px;top:477.00px;width:140.49px;height:9.0px;background:#FF0000;box-sizing:border-box;border:0.8px solid #8A1010"></div><div class="t" style="left:-25.600000000000023px;width:400px;text-align:right;top:477.80px;font-size:10px;line-height:10px;color:#000;">2023</div><div class="t" style="left:527.9920000000001px;top:477.70px;font-size:8.2px;line-height:8.2px;color:#000;">20.6</div><div style="position:absolute;left:383.60px;top:507.90px;width:53.20px;height:8.4px;background:#0058E0;box-sizing:border-box;border:0.8px solid #0A3C9A"></div><div class="t" style="left:-25.600000000000023px;width:400px;text-align:right;top:507.80px;font-size:10px;line-height:10px;color:#000;">2019</div><div class="t" style="left:439.3960000000001px;top:508.30px;font-size:8.2px;line-height:8.2px;color:#000;">7.8</div><div style="position:absolute;left:383.60px;top:518.27px;width:117.30px;height:8.4px;background:#0058E0;box-sizing:border-box;border:0.8px solid #0A3C9A"></div><div class="t" style="left:-25.600000000000023px;width:400px;text-align:right;top:518.18px;font-size:10px;line-height:10px;color:#000;">2018</div><div class="t" style="left:503.004px;top:518.67px;font-size:8.2px;line-height:8.2px;color:#000;">17.2</div><div style="position:absolute;left:383.60px;top:528.65px;width:110.48px;height:8.4px;background:#0058E0;box-sizing:border-box;border:0.8px solid #0A3C9A"></div><div class="t" style="left:-25.600000000000023px;width:400px;text-align:right;top:528.55px;font-size:10px;line-height:10px;color:#000;">2017</div><div class="t" style="left:495.384px;top:529.05px;font-size:8.2px;line-height:8.2px;color:#000;">16.2</div><div style="position:absolute;left:383.60px;top:539.02px;width:236.65px;height:8.4px;background:#FF0000;box-sizing:border-box;border:0.8px solid #8A1010"></div><div class="t" style="left:-25.600000000000023px;width:400px;text-align:right;top:538.93px;font-size:10px;line-height:10px;color:#000;">2016</div><div class="t" style="left:622.254px;top:539.42px;font-size:8.2px;line-height:8.2px;color:#000;">34.7</div><div style="position:absolute;left:383.60px;top:549.40px;width:55.11px;height:8.4px;background:#FF0000;box-sizing:border-box;border:0.8px solid #8A1010"></div><div class="t" style="left:-25.600000000000023px;width:400px;text-align:right;top:549.30px;font-size:10px;line-height:10px;color:#000;">2015</div><div class="t" style="left:441.0056px;top:549.80px;font-size:8.2px;line-height:8.2px;color:#000;">8.08</div><div style="position:absolute;left:383.60px;top:559.77px;width:8.87px;height:8.4px;background:#0058E0;box-sizing:border-box;border:0.8px solid #0A3C9A"></div><div class="t" style="left:-25.600000000000023px;width:400px;text-align:right;top:559.68px;font-size:10px;line-height:10px;color:#000;">2014</div><div class="t" style="left:393.266px;top:560.17px;font-size:8.2px;line-height:8.2px;color:#000;">1.3</div><div style="position:absolute;left:383.60px;top:570.15px;width:53.88px;height:8.4px;background:#0058E0;box-sizing:border-box;border:0.8px solid #0A3C9A"></div><div class="t" style="left:-25.600000000000023px;width:400px;text-align:right;top:570.05px;font-size:10px;line-height:10px;color:#000;">2013</div><div class="t" style="left:439.07800000000003px;top:570.55px;font-size:8.2px;line-height:8.2px;color:#000;">7.9</div><div style="position:absolute;left:383.60px;top:580.52px;width:49.10px;height:8.4px;background:#0058E0;box-sizing:border-box;border:0.8px solid #0A3C9A"></div><div class="t" style="left:-25.600000000000023px;width:400px;text-align:right;top:580.43px;font-size:10px;line-height:10px;color:#000;">2012</div><div class="t" style="left:434.004px;top:580.92px;font-size:8.2px;line-height:8.2px;color:#000;">7.2</div><div style="position:absolute;left:383.60px;top:590.90px;width:101.62px;height:8.4px;background:#00FFCC;box-sizing:border-box;border:0.8px solid #2A8A70"></div><div class="t" style="left:-25.600000000000023px;width:400px;text-align:right;top:590.80px;font-size:10px;line-height:10px;color:#000;">2011</div><div class="t" style="left:487.01800000000003px;top:591.30px;font-size:8.2px;line-height:8.2px;color:#000;">14.9</div><div style="position:absolute;left:383.60px;top:601.27px;width:32.05px;height:8.4px;background:#00FFCC;box-sizing:border-box;border:0.8px solid #2A8A70"></div><div class="t" style="left:-25.600000000000023px;width:400px;text-align:right;top:601.18px;font-size:10px;line-height:10px;color:#000;">2010</div><div class="t" style="left:418.754px;top:602.57px;font-size:8.2px;line-height:8.2px;color:#000;">4.7</div><div style="position:absolute;left:383.60px;top:611.65px;width:122.08px;height:8.4px;background:#0058E0;box-sizing:border-box;border:0.8px solid #0A3C9A"></div><div class="t" style="left:-25.600000000000023px;width:400px;text-align:right;top:611.55px;font-size:10px;line-height:10px;color:#000;">2009</div><div class="t" style="left:508.778px;top:612.05px;font-size:8.2px;line-height:8.2px;color:#000;">17.9</div><div style="position:absolute;left:383.60px;top:622.02px;width:60.70px;height:8.4px;background:#00FFCC;box-sizing:border-box;border:0.8px solid #2A8A70"></div><div class="t" style="left:-25.600000000000023px;width:400px;text-align:right;top:621.93px;font-size:10px;line-height:10px;color:#000;">2008</div><div class="t" style="left:448.798px;top:622.92px;font-size:8.2px;line-height:8.2px;color:#000;">8.9</div><div style="position:absolute;left:383.60px;top:632.40px;width:116.62px;height:8.4px;background:#00FFCC;box-sizing:border-box;border:0.8px solid #2A8A70"></div><div class="t" style="left:-25.600000000000023px;width:400px;text-align:right;top:632.30px;font-size:10px;line-height:10px;color:#000;">2007</div><div class="t" style="left:502.122px;top:633.80px;font-size:8.2px;line-height:8.2px;color:#000;">17.1</div><div style="position:absolute;left:383.60px;top:642.77px;width:36.83px;height:8.4px;background:#0058E0;box-sizing:border-box;border:0.8px solid #0A3C9A"></div><div class="t" style="left:-25.600000000000023px;width:400px;text-align:right;top:642.68px;font-size:10px;line-height:10px;color:#000;">2006</div><div class="t" style="left:421.128px;top:643.17px;font-size:8.2px;line-height:8.2px;color:#000;">5.4</div><div style="position:absolute;left:383.60px;top:653.15px;width:23.19px;height:8.4px;background:#0058E0;box-sizing:border-box;border:0.8px solid #0A3C9A"></div><div class="t" style="left:-25.600000000000023px;width:400px;text-align:right;top:653.05px;font-size:10px;line-height:10px;color:#000;">2005</div><div class="t" style="left:408.088px;top:653.55px;font-size:8.2px;line-height:8.2px;color:#000;">3.4</div><div style="position:absolute;left:383.60px;top:663.52px;width:28.64px;height:8.4px;background:#0058E0;box-sizing:border-box;border:0.8px solid #0A3C9A"></div><div class="t" style="left:-25.600000000000023px;width:400px;text-align:right;top:663.43px;font-size:10px;line-height:10px;color:#000;">2004</div><div class="t" style="left:412.744px;top:663.92px;font-size:8.2px;line-height:8.2px;color:#000;">4.2</div><div style="position:absolute;left:383.60px;top:673.90px;width:45.01px;height:8.4px;background:#0058E0;box-sizing:border-box;border:0.8px solid #0A3C9A"></div><div class="t" style="left:-25.600000000000023px;width:400px;text-align:right;top:673.80px;font-size:10px;line-height:10px;color:#000;">2003</div><div class="t" style="left:429.91200000000003px;top:674.30px;font-size:8.2px;line-height:8.2px;color:#000;">6.6</div><div style="position:absolute;left:383.60px;top:684.27px;width:41.60px;height:8.4px;background:#0058E0;box-sizing:border-box;border:0.8px solid #0A3C9A"></div><div class="t" style="left:-25.600000000000023px;width:400px;text-align:right;top:684.18px;font-size:10px;line-height:10px;color:#000;">2002</div><div class="t" style="left:427.302px;top:684.67px;font-size:8.2px;line-height:8.2px;color:#000;">6.1</div><div style="position:absolute;left:383.60px;top:694.65px;width:36.83px;height:8.4px;background:#0058E0;box-sizing:border-box;border:0.8px solid #0A3C9A"></div><div class="t" style="left:-25.600000000000023px;width:400px;text-align:right;top:694.55px;font-size:10px;line-height:10px;color:#000;">2001</div><div class="t" style="left:421.728px;top:695.05px;font-size:8.2px;line-height:8.2px;color:#000;">5.4</div><div style="position:absolute;left:383.60px;top:705.02px;width:46.38px;height:8.4px;background:#00FFCC;box-sizing:border-box;border:0.8px solid #2A8A70"></div><div class="t" style="left:-25.600000000000023px;width:400px;text-align:right;top:704.93px;font-size:10px;line-height:10px;color:#000;">2000</div><div class="t" style="left:431.876px;top:705.42px;font-size:8.2px;line-height:8.2px;color:#000;">6.8</div><div style="position:absolute;left:383.60px;top:715.40px;width:25.23px;height:8.4px;background:#00FFCC;box-sizing:border-box;border:0.8px solid #2A8A70"></div><div class="t" style="left:-25.600000000000023px;width:400px;text-align:right;top:715.30px;font-size:10px;line-height:10px;color:#000;">1999</div><div class="t" style="left:410.934px;top:715.80px;font-size:8.2px;line-height:8.2px;color:#000;">3.7</div><div style="position:absolute;left:383.60px;top:725.77px;width:70.93px;height:8.4px;background:#FF0000;box-sizing:border-box;border:0.8px solid #8A1010"></div><div class="t" style="left:-25.600000000000023px;width:400px;text-align:right;top:725.68px;font-size:10px;line-height:10px;color:#000;">1998</div><div class="t" style="left:456.12800000000004px;top:726.17px;font-size:8.2px;line-height:8.2px;color:#000;">10.4</div><div style="position:absolute;left:383.60px;top:736.15px;width:7.02px;height:8.4px;background:#FF0000;box-sizing:border-box;border:0.8px solid #8A1010"></div><div class="t" style="left:-25.600000000000023px;width:400px;text-align:right;top:736.05px;font-size:10px;line-height:10px;color:#000;">1997</div><div class="t" style="left:394.0246px;top:736.55px;font-size:8.2px;line-height:8.2px;color:#000;">1.03</div><div style="position:absolute;left:383.60px;top:746.52px;width:85.93px;height:8.4px;background:#0058E0;box-sizing:border-box;border:0.8px solid #0A3C9A"></div><div class="t" style="left:-25.600000000000023px;width:400px;text-align:right;top:746.43px;font-size:10px;line-height:10px;color:#000;">1996</div><div class="t" style="left:471.432px;top:746.92px;font-size:8.2px;line-height:8.2px;color:#000;">12.6</div><div style="position:absolute;left:383.60px;top:756.90px;width:23.19px;height:8.4px;background:#0058E0;box-sizing:border-box;border:0.8px solid #0A3C9A"></div><div class="t" style="left:-25.600000000000023px;width:400px;text-align:right;top:756.80px;font-size:10px;line-height:10px;color:#000;">1995</div><div class="t" style="left:409.38800000000003px;top:757.30px;font-size:8.2px;line-height:8.2px;color:#000;">3.4</div><div style="position:absolute;left:383.60px;top:767.27px;width:12.96px;height:8.4px;background:#0058E0;box-sizing:border-box;border:0.8px solid #0A3C9A"></div><div class="t" style="left:-25.600000000000023px;width:400px;text-align:right;top:767.18px;font-size:10px;line-height:10px;color:#000;">1994</div><div class="t" style="left:399.458px;top:767.67px;font-size:8.2px;line-height:8.2px;color:#000;">1.9</div><div style="position:absolute;left:383.60px;top:777.65px;width:9.55px;height:8.4px;background:#0058E0;box-sizing:border-box;border:0.8px solid #0A3C9A"></div><div class="t" style="left:-25.600000000000023px;width:400px;text-align:right;top:777.55px;font-size:10px;line-height:10px;color:#000;">1993</div><div class="t" style="left:396.348px;top:778.05px;font-size:8.2px;line-height:8.2px;color:#000;">1.4</div><div style="position:absolute;left:383.60px;top:788.02px;width:15.00px;height:8.4px;background:#FF0000;box-sizing:border-box;border:0.8px solid #8A1010"></div><div class="t" style="left:-25.600000000000023px;width:400px;text-align:right;top:787.93px;font-size:10px;line-height:10px;color:#000;">1992</div><div class="t" style="left:402.004px;top:788.92px;font-size:8.2px;line-height:8.2px;color:#000;">2.2</div><div style="position:absolute;left:383.60px;top:798.40px;width:21.82px;height:8.4px;background:#FF0000;box-sizing:border-box;border:0.8px solid #8A1010"></div><div class="t" style="left:-25.600000000000023px;width:400px;text-align:right;top:798.30px;font-size:10px;line-height:10px;color:#000;">1991</div><div class="t" style="left:408.02400000000006px;top:798.80px;font-size:8.2px;line-height:8.2px;color:#000;">3.2</div><div style="position:absolute;left:382.60px;top:411.3px;width:1.6px;height:399.6px;background:#222"></div><div style="position:absolute;left:382.60px;top:809.3px;width:260.4px;height:1.6px;background:#222"></div><div class="t" style="left:185.7px;width:400px;text-align:center;top:813.60px;font-size:10px;line-height:10px;color:#000;">0</div><div class="t" style="left:214.8px;width:400px;text-align:center;top:812.70px;font-size:10px;line-height:10px;color:#000;">5</div><div class="t" style="left:252.10000000000002px;width:400px;text-align:center;top:813.00px;font-size:10px;line-height:10px;color:#000;">10</div><div class="t" style="left:287.9px;width:400px;text-align:center;top:815.00px;font-size:10px;line-height:10px;color:#000;">15</div><div class="t" style="left:320.5px;width:400px;text-align:center;top:815.30px;font-size:10px;line-height:10px;color:#000;">20</div><div class="t" style="left:350.6px;width:400px;text-align:center;top:814.70px;font-size:10px;line-height:10px;color:#000;">25</div><div class="t" style="left:383.9px;width:400px;text-align:center;top:814.30px;font-size:10px;line-height:10px;color:#000;">30</div><div class="t" style="left:428.9px;width:400px;text-align:center;top:814.30px;font-size:10px;line-height:10px;color:#000;">35</div><div class="t" style="left:356px;top:835.97px;font-size:10.65px;line-height:10.65px;color:#000;">The number of days that contribute to heatwaves based on days per year</div><div style="position:absolute;left:279.1px;top:779.9px;width:12.5px;height:10.6px;background:#FF0000;box-sizing:border-box;border:0.9px solid #8A2020"></div><div style="position:absolute;left:279.1px;top:794.2px;width:13.2px;height:11.1px;background:#00FFCC;box-sizing:border-box;border:0.9px solid #3A9A80"></div><div class="t" style="left:298.5px;top:781.90px;font-size:12.2px;line-height:12.2px;color:#000;">El Niño</div><div class="t" style="left:299.5px;top:795.80px;font-size:12.2px;line-height:12.2px;color:#000;letter-spacing:-0.45px">La Niña</div><div style="position:absolute;left:583.3px;top:776.6px;width:12.5px;height:10.3px;background:#FF0000;box-sizing:border-box;border:0.9px solid #8A2020"></div><div style="position:absolute;left:583.3px;top:790.9px;width:13.2px;height:10.8px;background:#00FFCC;box-sizing:border-box;border:0.9px solid #3A9A80"></div><div class="t" style="left:602.5px;top:778.50px;font-size:12.2px;line-height:12.2px;color:#000;">El Niño</div><div class="t" style="left:603.5px;top:792.40px;font-size:12.2px;line-height:12.2px;color:#000;letter-spacing:-0.45px">La Niña</div>
</body></html>
